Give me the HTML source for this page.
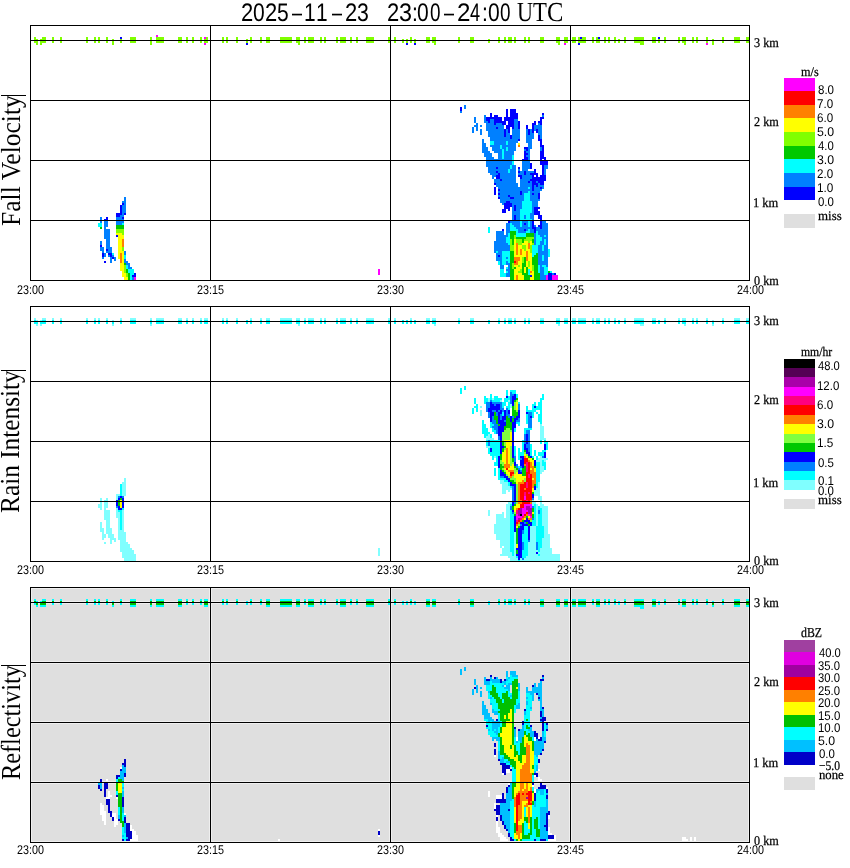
<!DOCTYPE html>
<html><head><meta charset="utf-8"><style>
html,body{margin:0;padding:0;background:#fff;width:850px;height:868px;overflow:hidden}
svg{display:block}
.t{position:absolute;white-space:pre;color:#000;line-height:1;transform-origin:0 0;filter:grayscale(1);text-rendering:geometricPrecision;-webkit-text-stroke:0.25px #000}
.nb{-webkit-text-stroke:0}
.t.sa{-webkit-text-stroke:0}
.se{font-family:"Liberation Serif",serif}
.sa{font-family:"Liberation Sans",sans-serif}
</style></head><body>
<svg width="850" height="868" viewBox="0 0 850 868" shape-rendering="crispEdges">
<rect x="31" y="588" width="718" height="254" fill="#dfdfdf"/>
<rect x="31" y="588" width="718" height="1" fill="#efefef"/>
<rect x="31" y="601" width="718" height="1" fill="#efefef"/>
<rect x="31" y="603" width="718" height="1" fill="#efefef"/>
<rect x="31" y="661" width="718" height="1" fill="#efefef"/>
<rect x="31" y="663" width="718" height="1" fill="#efefef"/>
<rect x="31" y="721" width="718" height="1" fill="#efefef"/>
<rect x="31" y="723" width="718" height="1" fill="#efefef"/>
<rect x="31" y="781" width="718" height="1" fill="#efefef"/>
<rect x="31" y="783" width="718" height="1" fill="#efefef"/>
<rect x="31" y="841" width="718" height="1" fill="#efefef"/>
<rect x="31" y="588" width="1" height="254" fill="#efefef"/>
<rect x="209" y="588" width="1" height="254" fill="#efefef"/>
<rect x="211" y="588" width="1" height="254" fill="#efefef"/>
<rect x="389" y="588" width="1" height="254" fill="#efefef"/>
<rect x="391" y="588" width="1" height="254" fill="#efefef"/>
<rect x="569" y="588" width="1" height="254" fill="#efefef"/>
<rect x="571" y="588" width="1" height="254" fill="#efefef"/>
<rect x="748" y="588" width="1" height="254" fill="#efefef"/>
<rect x="156" y="35" width="2" height="2" fill="#ff00ff"/>
<rect x="34" y="37" width="2" height="2" fill="#80ff00"/>
<rect x="42" y="37" width="4" height="2" fill="#80ff00"/>
<rect x="52" y="37" width="2" height="6" fill="#80ff00"/>
<rect x="60" y="37" width="2" height="6" fill="#80ff00"/>
<rect x="86" y="37" width="2" height="6" fill="#80ff00"/>
<rect x="94" y="37" width="2" height="6" fill="#80ff00"/>
<rect x="98" y="37" width="2" height="6" fill="#80ff00"/>
<rect x="106" y="37" width="2" height="6" fill="#80ff00"/>
<rect x="120" y="37" width="2" height="2" fill="#0000ff"/>
<rect x="120" y="205" width="2" height="8" fill="#0000ff"/>
<rect x="130" y="37" width="6" height="6" fill="#80ff00"/>
<rect x="150" y="37" width="2" height="8" fill="#80ff00"/>
<rect x="156" y="37" width="8" height="6" fill="#80ff00"/>
<rect x="178" y="37" width="4" height="6" fill="#80ff00"/>
<rect x="186" y="37" width="2" height="6" fill="#80ff00"/>
<rect x="192" y="37" width="2" height="6" fill="#80ff00"/>
<rect x="200" y="37" width="2" height="6" fill="#80ff00"/>
<rect x="204" y="37" width="2" height="2" fill="#ff00ff"/>
<rect x="204" y="43" width="2" height="2" fill="#ff00ff"/>
<rect x="206" y="37" width="2" height="2" fill="#80ff00"/>
<rect x="222" y="37" width="2" height="6" fill="#80ff00"/>
<rect x="226" y="37" width="2" height="6" fill="#80ff00"/>
<rect x="236" y="37" width="2" height="6" fill="#80ff00"/>
<rect x="250" y="37" width="2" height="6" fill="#80ff00"/>
<rect x="260" y="37" width="2" height="6" fill="#80ff00"/>
<rect x="266" y="37" width="4" height="6" fill="#80ff00"/>
<rect x="280" y="37" width="12" height="6" fill="#80ff00"/>
<rect x="296" y="37" width="4" height="6" fill="#80ff00"/>
<rect x="304" y="37" width="2" height="6" fill="#80ff00"/>
<rect x="308" y="37" width="6" height="6" fill="#80ff00"/>
<rect x="320" y="37" width="2" height="6" fill="#80ff00"/>
<rect x="324" y="37" width="2" height="6" fill="#80ff00"/>
<rect x="336" y="37" width="2" height="6" fill="#80ff00"/>
<rect x="340" y="37" width="6" height="6" fill="#80ff00"/>
<rect x="350" y="37" width="2" height="6" fill="#80ff00"/>
<rect x="356" y="37" width="2" height="6" fill="#80ff00"/>
<rect x="366" y="37" width="8" height="6" fill="#80ff00"/>
<rect x="388" y="37" width="2" height="6" fill="#80ff00"/>
<rect x="394" y="37" width="2" height="6" fill="#80ff00"/>
<rect x="410" y="37" width="2" height="6" fill="#80ff00"/>
<rect x="426" y="37" width="4" height="6" fill="#80ff00"/>
<rect x="432" y="37" width="4" height="6" fill="#80ff00"/>
<rect x="458" y="37" width="2" height="6" fill="#80ff00"/>
<rect x="470" y="37" width="4" height="6" fill="#80ff00"/>
<rect x="498" y="37" width="2" height="6" fill="#80ff00"/>
<rect x="504" y="37" width="2" height="6" fill="#80ff00"/>
<rect x="508" y="37" width="4" height="6" fill="#80ff00"/>
<rect x="514" y="37" width="2" height="6" fill="#80ff00"/>
<rect x="514" y="235" width="2" height="4" fill="#80ff00"/>
<rect x="524" y="37" width="2" height="6" fill="#80ff00"/>
<rect x="524" y="249" width="2" height="2" fill="#80ff00"/>
<rect x="528" y="37" width="2" height="6" fill="#80ff00"/>
<rect x="528" y="241" width="2" height="2" fill="#80ff00"/>
<rect x="528" y="261" width="2" height="6" fill="#80ff00"/>
<rect x="540" y="37" width="4" height="6" fill="#80ff00"/>
<rect x="556" y="37" width="4" height="6" fill="#80ff00"/>
<rect x="564" y="37" width="4" height="6" fill="#80ff00"/>
<rect x="572" y="37" width="4" height="6" fill="#80ff00"/>
<rect x="578" y="37" width="2" height="2" fill="#80ff00"/>
<rect x="580" y="37" width="2" height="2" fill="#0000ff"/>
<rect x="582" y="37" width="4" height="2" fill="#80ff00"/>
<rect x="592" y="37" width="2" height="6" fill="#80ff00"/>
<rect x="596" y="37" width="2" height="2" fill="#80ff00"/>
<rect x="598" y="37" width="2" height="2" fill="#0000ff"/>
<rect x="604" y="37" width="2" height="6" fill="#80ff00"/>
<rect x="608" y="37" width="2" height="6" fill="#80ff00"/>
<rect x="614" y="37" width="2" height="6" fill="#80ff00"/>
<rect x="624" y="37" width="2" height="6" fill="#80ff00"/>
<rect x="634" y="37" width="10" height="6" fill="#80ff00"/>
<rect x="652" y="37" width="4" height="6" fill="#80ff00"/>
<rect x="658" y="37" width="2" height="2" fill="#0000ff"/>
<rect x="664" y="37" width="2" height="6" fill="#80ff00"/>
<rect x="678" y="37" width="2" height="6" fill="#80ff00"/>
<rect x="682" y="37" width="4" height="6" fill="#80ff00"/>
<rect x="692" y="37" width="2" height="6" fill="#80ff00"/>
<rect x="696" y="37" width="2" height="6" fill="#80ff00"/>
<rect x="706" y="37" width="2" height="6" fill="#80ff00"/>
<rect x="722" y="37" width="2" height="6" fill="#80ff00"/>
<rect x="734" y="37" width="6" height="6" fill="#80ff00"/>
<rect x="746" y="37" width="4" height="6" fill="#80ff00"/>
<rect x="34" y="39" width="4" height="4" fill="#80ff00"/>
<rect x="40" y="39" width="6" height="4" fill="#80ff00"/>
<rect x="112" y="39" width="2" height="6" fill="#80ff00"/>
<rect x="120" y="39" width="2" height="4" fill="#80ff00"/>
<rect x="204" y="39" width="4" height="4" fill="#80ff00"/>
<rect x="246" y="39" width="2" height="4" fill="#80ff00"/>
<rect x="402" y="39" width="2" height="4" fill="#80ff00"/>
<rect x="406" y="39" width="2" height="4" fill="#80ff00"/>
<rect x="414" y="39" width="2" height="4" fill="#80ff00"/>
<rect x="488" y="39" width="2" height="4" fill="#80ff00"/>
<rect x="578" y="39" width="8" height="4" fill="#80ff00"/>
<rect x="596" y="39" width="4" height="4" fill="#80ff00"/>
<rect x="618" y="39" width="2" height="4" fill="#80ff00"/>
<rect x="658" y="39" width="2" height="4" fill="#80ff00"/>
<rect x="712" y="39" width="2" height="6" fill="#80ff00"/>
<rect x="36" y="43" width="2" height="2" fill="#80ff00"/>
<rect x="40" y="43" width="2" height="2" fill="#80ff00"/>
<rect x="246" y="43" width="2" height="2" fill="#0000ff"/>
<rect x="298" y="43" width="2" height="2" fill="#80ff00"/>
<rect x="406" y="43" width="2" height="2" fill="#0000ff"/>
<rect x="414" y="43" width="2" height="2" fill="#0000ff"/>
<rect x="434" y="43" width="2" height="2" fill="#80ff00"/>
<rect x="558" y="43" width="2" height="2" fill="#80ff00"/>
<rect x="564" y="43" width="2" height="2" fill="#ff00ff"/>
<rect x="578" y="43" width="2" height="2" fill="#0000ff"/>
<rect x="640" y="43" width="4" height="2" fill="#80ff00"/>
<rect x="684" y="43" width="2" height="2" fill="#80ff00"/>
<rect x="706" y="43" width="2" height="2" fill="#ff00ff"/>
<rect x="464" y="105" width="2" height="4" fill="#0080ff"/>
<rect x="460" y="107" width="2" height="4" fill="#0000ff"/>
<rect x="506" y="109" width="2" height="8" fill="#0000ff"/>
<rect x="510" y="109" width="6" height="4" fill="#0000ff"/>
<rect x="460" y="111" width="2" height="2" fill="#0080ff"/>
<rect x="490" y="113" width="2" height="4" fill="#0000ff"/>
<rect x="510" y="113" width="8" height="4" fill="#0000ff"/>
<rect x="542" y="113" width="2" height="2" fill="#0000ff"/>
<rect x="542" y="147" width="2" height="4" fill="#0000ff"/>
<rect x="542" y="165" width="2" height="10" fill="#0000ff"/>
<rect x="484" y="115" width="2" height="6" fill="#0080ff"/>
<rect x="494" y="115" width="4" height="2" fill="#0000ff"/>
<rect x="542" y="115" width="2" height="2" fill="#0080ff"/>
<rect x="542" y="187" width="2" height="2" fill="#0080ff"/>
<rect x="542" y="239" width="2" height="2" fill="#0080ff"/>
<rect x="474" y="117" width="2" height="6" fill="#0080ff"/>
<rect x="486" y="117" width="16" height="2" fill="#0000ff"/>
<rect x="504" y="117" width="14" height="2" fill="#0000ff"/>
<rect x="540" y="117" width="4" height="2" fill="#0000ff"/>
<rect x="540" y="145" width="4" height="2" fill="#0000ff"/>
<rect x="540" y="151" width="4" height="6" fill="#0000ff"/>
<rect x="540" y="183" width="4" height="2" fill="#0000ff"/>
<rect x="486" y="119" width="4" height="2" fill="#0000ff"/>
<rect x="490" y="119" width="4" height="4" fill="#0080ff"/>
<rect x="494" y="119" width="8" height="2" fill="#0000ff"/>
<rect x="504" y="119" width="10" height="2" fill="#0000ff"/>
<rect x="514" y="119" width="4" height="10" fill="#0080ff"/>
<rect x="540" y="119" width="2" height="2" fill="#0000ff"/>
<rect x="540" y="123" width="2" height="2" fill="#0000ff"/>
<rect x="540" y="141" width="2" height="4" fill="#0000ff"/>
<rect x="540" y="159" width="2" height="2" fill="#0000ff"/>
<rect x="540" y="187" width="2" height="2" fill="#0000ff"/>
<rect x="540" y="219" width="2" height="6" fill="#0000ff"/>
<rect x="540" y="227" width="2" height="2" fill="#0000ff"/>
<rect x="484" y="121" width="4" height="2" fill="#0080ff"/>
<rect x="488" y="121" width="2" height="2" fill="#0000ff"/>
<rect x="494" y="121" width="12" height="2" fill="#0000ff"/>
<rect x="508" y="121" width="6" height="4" fill="#0000ff"/>
<rect x="518" y="121" width="2" height="8" fill="#0000ff"/>
<rect x="518" y="139" width="2" height="2" fill="#0000ff"/>
<rect x="518" y="167" width="2" height="2" fill="#0000ff"/>
<rect x="518" y="171" width="2" height="2" fill="#0000ff"/>
<rect x="534" y="121" width="2" height="2" fill="#0000ff"/>
<rect x="534" y="169" width="2" height="4" fill="#0000ff"/>
<rect x="534" y="229" width="2" height="4" fill="#0000ff"/>
<rect x="538" y="121" width="4" height="2" fill="#0000ff"/>
<rect x="538" y="139" width="4" height="2" fill="#0000ff"/>
<rect x="538" y="215" width="4" height="4" fill="#0000ff"/>
<rect x="538" y="225" width="4" height="2" fill="#0000ff"/>
<rect x="476" y="123" width="2" height="2" fill="#0080ff"/>
<rect x="476" y="127" width="2" height="4" fill="#0080ff"/>
<rect x="486" y="123" width="8" height="2" fill="#0080ff"/>
<rect x="486" y="157" width="8" height="2" fill="#0080ff"/>
<rect x="494" y="123" width="2" height="2" fill="#0000ff"/>
<rect x="494" y="183" width="2" height="2" fill="#0000ff"/>
<rect x="494" y="187" width="2" height="8" fill="#0000ff"/>
<rect x="496" y="123" width="6" height="2" fill="#0080ff"/>
<rect x="496" y="253" width="6" height="2" fill="#0080ff"/>
<rect x="496" y="257" width="6" height="4" fill="#0080ff"/>
<rect x="502" y="123" width="4" height="2" fill="#0000ff"/>
<rect x="502" y="209" width="4" height="4" fill="#0000ff"/>
<rect x="532" y="123" width="4" height="2" fill="#0000ff"/>
<rect x="532" y="181" width="4" height="2" fill="#0000ff"/>
<rect x="532" y="227" width="4" height="2" fill="#0000ff"/>
<rect x="538" y="123" width="2" height="2" fill="#0080ff"/>
<rect x="538" y="183" width="2" height="2" fill="#0080ff"/>
<rect x="474" y="125" width="4" height="2" fill="#0080ff"/>
<rect x="480" y="125" width="2" height="2" fill="#0080ff"/>
<rect x="480" y="129" width="2" height="6" fill="#0080ff"/>
<rect x="486" y="125" width="18" height="2" fill="#0080ff"/>
<rect x="486" y="129" width="18" height="2" fill="#0080ff"/>
<rect x="506" y="125" width="8" height="2" fill="#0000ff"/>
<rect x="526" y="125" width="2" height="4" fill="#0000ff"/>
<rect x="526" y="149" width="2" height="2" fill="#0000ff"/>
<rect x="532" y="125" width="2" height="8" fill="#0000ff"/>
<rect x="532" y="175" width="2" height="2" fill="#0000ff"/>
<rect x="532" y="185" width="2" height="6" fill="#0000ff"/>
<rect x="532" y="193" width="2" height="2" fill="#0000ff"/>
<rect x="532" y="221" width="2" height="6" fill="#0000ff"/>
<rect x="534" y="125" width="8" height="4" fill="#0080ff"/>
<rect x="534" y="189" width="8" height="2" fill="#0080ff"/>
<rect x="472" y="127" width="2" height="6" fill="#0080ff"/>
<rect x="486" y="127" width="10" height="2" fill="#0080ff"/>
<rect x="496" y="127" width="2" height="2" fill="#0000ff"/>
<rect x="496" y="167" width="2" height="2" fill="#0000ff"/>
<rect x="496" y="171" width="2" height="2" fill="#0000ff"/>
<rect x="498" y="127" width="6" height="2" fill="#0080ff"/>
<rect x="506" y="127" width="4" height="2" fill="#0000ff"/>
<rect x="506" y="201" width="4" height="2" fill="#0000ff"/>
<rect x="512" y="127" width="2" height="2" fill="#0000ff"/>
<rect x="504" y="129" width="2" height="8" fill="#0000ff"/>
<rect x="506" y="129" width="2" height="4" fill="#0080ff"/>
<rect x="506" y="233" width="2" height="2" fill="#0080ff"/>
<rect x="506" y="257" width="2" height="2" fill="#0080ff"/>
<rect x="506" y="261" width="2" height="2" fill="#0080ff"/>
<rect x="508" y="129" width="2" height="4" fill="#0000ff"/>
<rect x="508" y="195" width="2" height="2" fill="#0000ff"/>
<rect x="508" y="209" width="2" height="2" fill="#0000ff"/>
<rect x="508" y="221" width="2" height="2" fill="#0000ff"/>
<rect x="512" y="129" width="8" height="10" fill="#0080ff"/>
<rect x="512" y="211" width="8" height="4" fill="#0080ff"/>
<rect x="512" y="223" width="8" height="2" fill="#0080ff"/>
<rect x="526" y="129" width="2" height="6" fill="#0080ff"/>
<rect x="526" y="223" width="2" height="2" fill="#0080ff"/>
<rect x="526" y="229" width="2" height="2" fill="#0080ff"/>
<rect x="528" y="129" width="2" height="6" fill="#0000ff"/>
<rect x="528" y="181" width="2" height="2" fill="#0000ff"/>
<rect x="530" y="129" width="2" height="4" fill="#0080ff"/>
<rect x="530" y="181" width="2" height="2" fill="#0080ff"/>
<rect x="530" y="187" width="2" height="2" fill="#0080ff"/>
<rect x="530" y="193" width="2" height="2" fill="#0080ff"/>
<rect x="530" y="221" width="2" height="6" fill="#0080ff"/>
<rect x="534" y="129" width="2" height="2" fill="#0080ff"/>
<rect x="534" y="185" width="2" height="2" fill="#0080ff"/>
<rect x="534" y="225" width="2" height="2" fill="#0080ff"/>
<rect x="534" y="233" width="2" height="12" fill="#0080ff"/>
<rect x="536" y="129" width="2" height="4" fill="#0000ff"/>
<rect x="536" y="175" width="2" height="2" fill="#0000ff"/>
<rect x="536" y="185" width="2" height="2" fill="#0000ff"/>
<rect x="538" y="129" width="4" height="6" fill="#0080ff"/>
<rect x="538" y="245" width="4" height="6" fill="#0080ff"/>
<rect x="538" y="255" width="4" height="6" fill="#0080ff"/>
<rect x="488" y="131" width="16" height="6" fill="#0080ff"/>
<rect x="506" y="133" width="4" height="4" fill="#0080ff"/>
<rect x="506" y="223" width="4" height="10" fill="#0080ff"/>
<rect x="506" y="263" width="4" height="2" fill="#0080ff"/>
<rect x="506" y="269" width="4" height="2" fill="#0080ff"/>
<rect x="506" y="273" width="4" height="4" fill="#0080ff"/>
<rect x="530" y="133" width="4" height="2" fill="#0080ff"/>
<rect x="530" y="213" width="4" height="6" fill="#0080ff"/>
<rect x="530" y="229" width="4" height="4" fill="#0080ff"/>
<rect x="510" y="135" width="2" height="4" fill="#0000ff"/>
<rect x="526" y="135" width="8" height="4" fill="#0080ff"/>
<rect x="526" y="171" width="8" height="2" fill="#0080ff"/>
<rect x="538" y="135" width="2" height="4" fill="#0000ff"/>
<rect x="538" y="193" width="2" height="6" fill="#0000ff"/>
<rect x="540" y="135" width="2" height="4" fill="#0080ff"/>
<rect x="540" y="147" width="2" height="4" fill="#0080ff"/>
<rect x="540" y="265" width="2" height="2" fill="#0080ff"/>
<rect x="490" y="137" width="20" height="2" fill="#0080ff"/>
<rect x="482" y="139" width="2" height="4" fill="#0080ff"/>
<rect x="490" y="139" width="28" height="2" fill="#0080ff"/>
<rect x="526" y="139" width="6" height="4" fill="#0080ff"/>
<rect x="490" y="141" width="4" height="4" fill="#00ffff"/>
<rect x="494" y="141" width="12" height="4" fill="#0080ff"/>
<rect x="494" y="241" width="12" height="2" fill="#0080ff"/>
<rect x="506" y="141" width="2" height="4" fill="#00ffff"/>
<rect x="506" y="147" width="2" height="4" fill="#00ffff"/>
<rect x="506" y="267" width="2" height="2" fill="#00ffff"/>
<rect x="506" y="271" width="2" height="2" fill="#00ffff"/>
<rect x="508" y="141" width="10" height="2" fill="#0080ff"/>
<rect x="482" y="143" width="4" height="4" fill="#0080ff"/>
<rect x="508" y="143" width="8" height="2" fill="#0080ff"/>
<rect x="508" y="147" width="8" height="4" fill="#0080ff"/>
<rect x="518" y="143" width="2" height="2" fill="#ffff00"/>
<rect x="518" y="249" width="2" height="6" fill="#ffff00"/>
<rect x="528" y="143" width="4" height="6" fill="#0080ff"/>
<rect x="490" y="145" width="10" height="2" fill="#0080ff"/>
<rect x="500" y="145" width="2" height="4" fill="#00ffff"/>
<rect x="502" y="145" width="14" height="2" fill="#0080ff"/>
<rect x="502" y="179" width="14" height="2" fill="#0080ff"/>
<rect x="518" y="145" width="2" height="2" fill="#ff8000"/>
<rect x="482" y="147" width="6" height="4" fill="#0080ff"/>
<rect x="492" y="147" width="8" height="2" fill="#0080ff"/>
<rect x="502" y="147" width="4" height="2" fill="#0080ff"/>
<rect x="524" y="147" width="4" height="2" fill="#0000ff"/>
<rect x="524" y="153" width="4" height="2" fill="#0000ff"/>
<rect x="524" y="157" width="4" height="2" fill="#0000ff"/>
<rect x="492" y="149" width="10" height="2" fill="#0080ff"/>
<rect x="502" y="149" width="2" height="10" fill="#00ffff"/>
<rect x="504" y="149" width="2" height="2" fill="#0080ff"/>
<rect x="524" y="149" width="2" height="2" fill="#0080ff"/>
<rect x="524" y="215" width="2" height="4" fill="#0080ff"/>
<rect x="528" y="149" width="2" height="2" fill="#0080ff"/>
<rect x="528" y="153" width="2" height="2" fill="#0080ff"/>
<rect x="528" y="157" width="2" height="4" fill="#0080ff"/>
<rect x="482" y="151" width="8" height="2" fill="#0080ff"/>
<rect x="494" y="151" width="8" height="2" fill="#0080ff"/>
<rect x="504" y="151" width="10" height="4" fill="#0080ff"/>
<rect x="524" y="151" width="2" height="2" fill="#0000ff"/>
<rect x="524" y="155" width="2" height="2" fill="#0000ff"/>
<rect x="524" y="171" width="2" height="4" fill="#0000ff"/>
<rect x="524" y="223" width="2" height="2" fill="#0000ff"/>
<rect x="524" y="229" width="2" height="2" fill="#0000ff"/>
<rect x="526" y="151" width="4" height="2" fill="#0080ff"/>
<rect x="526" y="155" width="4" height="2" fill="#0080ff"/>
<rect x="526" y="173" width="4" height="2" fill="#0080ff"/>
<rect x="484" y="153" width="8" height="4" fill="#0080ff"/>
<rect x="498" y="153" width="4" height="6" fill="#0080ff"/>
<rect x="498" y="251" width="4" height="2" fill="#0080ff"/>
<rect x="504" y="155" width="8" height="4" fill="#0080ff"/>
<rect x="512" y="155" width="2" height="10" fill="#00ffff"/>
<rect x="540" y="157" width="6" height="2" fill="#0000ff"/>
<rect x="540" y="175" width="6" height="2" fill="#0000ff"/>
<rect x="486" y="159" width="26" height="6" fill="#0080ff"/>
<rect x="522" y="159" width="6" height="2" fill="#0000ff"/>
<rect x="544" y="159" width="2" height="2" fill="#0000ff"/>
<rect x="522" y="161" width="8" height="8" fill="#0080ff"/>
<rect x="540" y="161" width="8" height="4" fill="#0000ff"/>
<rect x="530" y="163" width="2" height="6" fill="#0000ff"/>
<rect x="530" y="275" width="2" height="2" fill="#0000ff"/>
<rect x="486" y="165" width="24" height="2" fill="#0080ff"/>
<rect x="510" y="165" width="2" height="4" fill="#00ffff"/>
<rect x="510" y="223" width="2" height="2" fill="#00ffff"/>
<rect x="512" y="165" width="4" height="4" fill="#0080ff"/>
<rect x="544" y="165" width="4" height="4" fill="#0080ff"/>
<rect x="544" y="245" width="4" height="6" fill="#0080ff"/>
<rect x="544" y="255" width="4" height="6" fill="#0080ff"/>
<rect x="488" y="167" width="8" height="2" fill="#0080ff"/>
<rect x="488" y="171" width="8" height="2" fill="#0080ff"/>
<rect x="498" y="167" width="12" height="2" fill="#0080ff"/>
<rect x="488" y="169" width="20" height="2" fill="#0080ff"/>
<rect x="508" y="169" width="2" height="4" fill="#00ffff"/>
<rect x="508" y="233" width="2" height="4" fill="#00ffff"/>
<rect x="508" y="243" width="2" height="2" fill="#00ffff"/>
<rect x="508" y="257" width="2" height="2" fill="#00ffff"/>
<rect x="508" y="261" width="2" height="2" fill="#00ffff"/>
<rect x="510" y="169" width="6" height="4" fill="#0080ff"/>
<rect x="518" y="169" width="2" height="2" fill="#0080ff"/>
<rect x="522" y="169" width="6" height="2" fill="#0080ff"/>
<rect x="522" y="191" width="6" height="2" fill="#0080ff"/>
<rect x="522" y="221" width="6" height="2" fill="#0080ff"/>
<rect x="522" y="225" width="6" height="2" fill="#0080ff"/>
<rect x="544" y="169" width="2" height="6" fill="#0080ff"/>
<rect x="498" y="171" width="10" height="2" fill="#0080ff"/>
<rect x="498" y="195" width="10" height="2" fill="#0080ff"/>
<rect x="520" y="171" width="4" height="2" fill="#0080ff"/>
<rect x="490" y="173" width="8" height="2" fill="#0080ff"/>
<rect x="498" y="173" width="2" height="2" fill="#0000ff"/>
<rect x="498" y="189" width="2" height="2" fill="#0000ff"/>
<rect x="498" y="193" width="2" height="2" fill="#0000ff"/>
<rect x="498" y="197" width="2" height="2" fill="#0000ff"/>
<rect x="498" y="255" width="2" height="2" fill="#0000ff"/>
<rect x="500" y="173" width="16" height="6" fill="#0080ff"/>
<rect x="518" y="173" width="6" height="2" fill="#0080ff"/>
<rect x="518" y="229" width="6" height="2" fill="#0080ff"/>
<rect x="530" y="173" width="8" height="2" fill="#0000ff"/>
<rect x="492" y="175" width="4" height="2" fill="#0080ff"/>
<rect x="496" y="175" width="4" height="4" fill="#0000ff"/>
<rect x="518" y="175" width="4" height="2" fill="#0000ff"/>
<rect x="522" y="175" width="10" height="4" fill="#0080ff"/>
<rect x="492" y="177" width="2" height="2" fill="#0080ff"/>
<rect x="520" y="177" width="2" height="2" fill="#0000ff"/>
<rect x="520" y="191" width="2" height="4" fill="#0000ff"/>
<rect x="532" y="177" width="14" height="2" fill="#0000ff"/>
<rect x="494" y="179" width="6" height="2" fill="#0080ff"/>
<rect x="500" y="179" width="2" height="2" fill="#0000ff"/>
<rect x="520" y="179" width="10" height="2" fill="#0080ff"/>
<rect x="530" y="179" width="16" height="2" fill="#0000ff"/>
<rect x="494" y="181" width="22" height="2" fill="#0080ff"/>
<rect x="520" y="181" width="8" height="2" fill="#0080ff"/>
<rect x="536" y="181" width="2" height="2" fill="#0080ff"/>
<rect x="538" y="181" width="6" height="2" fill="#0000ff"/>
<rect x="496" y="183" width="22" height="4" fill="#0080ff"/>
<rect x="520" y="183" width="12" height="4" fill="#0080ff"/>
<rect x="532" y="183" width="6" height="2" fill="#0000ff"/>
<rect x="538" y="185" width="6" height="2" fill="#0080ff"/>
<rect x="498" y="187" width="30" height="2" fill="#0080ff"/>
<rect x="528" y="187" width="2" height="2" fill="#00ffff"/>
<rect x="528" y="191" width="2" height="2" fill="#00ffff"/>
<rect x="528" y="221" width="2" height="6" fill="#00ffff"/>
<rect x="528" y="229" width="2" height="2" fill="#00ffff"/>
<rect x="528" y="269" width="2" height="6" fill="#00ffff"/>
<rect x="534" y="187" width="6" height="2" fill="#0080ff"/>
<rect x="500" y="189" width="32" height="2" fill="#0080ff"/>
<rect x="498" y="191" width="22" height="2" fill="#0080ff"/>
<rect x="530" y="191" width="10" height="2" fill="#0080ff"/>
<rect x="530" y="199" width="10" height="2" fill="#0080ff"/>
<rect x="500" y="193" width="20" height="2" fill="#0080ff"/>
<rect x="522" y="193" width="2" height="2" fill="#0080ff"/>
<rect x="522" y="223" width="2" height="2" fill="#0080ff"/>
<rect x="524" y="193" width="6" height="8" fill="#00ffff"/>
<rect x="534" y="193" width="4" height="2" fill="#0080ff"/>
<rect x="510" y="195" width="14" height="2" fill="#0080ff"/>
<rect x="530" y="195" width="8" height="4" fill="#0080ff"/>
<rect x="124" y="197" width="2" height="4" fill="#0080ff"/>
<rect x="124" y="203" width="2" height="2" fill="#0080ff"/>
<rect x="124" y="251" width="2" height="4" fill="#0080ff"/>
<rect x="124" y="259" width="2" height="2" fill="#0080ff"/>
<rect x="500" y="197" width="10" height="2" fill="#0080ff"/>
<rect x="510" y="197" width="4" height="2" fill="#0000ff"/>
<rect x="514" y="197" width="10" height="2" fill="#0080ff"/>
<rect x="500" y="199" width="24" height="2" fill="#0080ff"/>
<rect x="122" y="201" width="4" height="2" fill="#0080ff"/>
<rect x="122" y="205" width="4" height="8" fill="#0080ff"/>
<rect x="500" y="201" width="6" height="2" fill="#0080ff"/>
<rect x="510" y="201" width="12" height="2" fill="#0080ff"/>
<rect x="522" y="201" width="10" height="8" fill="#00ffff"/>
<rect x="532" y="201" width="6" height="6" fill="#0080ff"/>
<rect x="122" y="203" width="2" height="2" fill="#0000ff"/>
<rect x="122" y="217" width="2" height="2" fill="#0000ff"/>
<rect x="502" y="203" width="2" height="2" fill="#0080ff"/>
<rect x="504" y="203" width="8" height="4" fill="#0000ff"/>
<rect x="512" y="203" width="10" height="2" fill="#0080ff"/>
<rect x="512" y="205" width="2" height="6" fill="#0080ff"/>
<rect x="512" y="215" width="2" height="6" fill="#0080ff"/>
<rect x="514" y="205" width="2" height="6" fill="#0000ff"/>
<rect x="514" y="215" width="2" height="6" fill="#0000ff"/>
<rect x="516" y="205" width="6" height="4" fill="#0080ff"/>
<rect x="504" y="207" width="6" height="2" fill="#0000ff"/>
<rect x="532" y="207" width="2" height="6" fill="#0080ff"/>
<rect x="532" y="219" width="2" height="2" fill="#0080ff"/>
<rect x="534" y="207" width="6" height="2" fill="#0000ff"/>
<rect x="534" y="211" width="6" height="4" fill="#0000ff"/>
<rect x="516" y="209" width="4" height="2" fill="#0080ff"/>
<rect x="516" y="215" width="4" height="6" fill="#0080ff"/>
<rect x="520" y="209" width="12" height="4" fill="#00ffff"/>
<rect x="520" y="219" width="12" height="2" fill="#00ffff"/>
<rect x="534" y="209" width="4" height="2" fill="#0000ff"/>
<rect x="116" y="213" width="6" height="2" fill="#0000ff"/>
<rect x="122" y="213" width="2" height="2" fill="#0080ff"/>
<rect x="124" y="213" width="2" height="2" fill="#0000ff"/>
<rect x="520" y="213" width="10" height="2" fill="#00ffff"/>
<rect x="116" y="215" width="4" height="2" fill="#0000ff"/>
<rect x="120" y="215" width="4" height="2" fill="#0080ff"/>
<rect x="520" y="215" width="4" height="4" fill="#00ffff"/>
<rect x="526" y="215" width="4" height="4" fill="#00ffff"/>
<rect x="526" y="231" width="4" height="2" fill="#00ffff"/>
<rect x="100" y="217" width="2" height="6" fill="#0080ff"/>
<rect x="100" y="241" width="2" height="4" fill="#0080ff"/>
<rect x="106" y="217" width="2" height="2" fill="#0000ff"/>
<rect x="106" y="249" width="2" height="2" fill="#0000ff"/>
<rect x="116" y="217" width="6" height="2" fill="#0080ff"/>
<rect x="116" y="223" width="6" height="2" fill="#0080ff"/>
<rect x="104" y="219" width="4" height="2" fill="#0000ff"/>
<rect x="116" y="219" width="8" height="4" fill="#0080ff"/>
<rect x="104" y="221" width="4" height="6" fill="#0080ff"/>
<rect x="510" y="221" width="10" height="2" fill="#0080ff"/>
<rect x="520" y="221" width="2" height="6" fill="#00ffff"/>
<rect x="542" y="221" width="4" height="2" fill="#0080ff"/>
<rect x="98" y="223" width="4" height="4" fill="#00ffff"/>
<rect x="122" y="223" width="2" height="2" fill="#00ffff"/>
<rect x="542" y="223" width="6" height="6" fill="#0080ff"/>
<rect x="542" y="237" width="6" height="2" fill="#0080ff"/>
<rect x="116" y="225" width="8" height="4" fill="#00c800"/>
<rect x="510" y="225" width="4" height="2" fill="#00ffff"/>
<rect x="514" y="225" width="6" height="2" fill="#0080ff"/>
<rect x="100" y="227" width="2" height="2" fill="#00c800"/>
<rect x="104" y="227" width="2" height="2" fill="#0080ff"/>
<rect x="104" y="253" width="2" height="4" fill="#0080ff"/>
<rect x="488" y="227" width="2" height="6" fill="#00ffff"/>
<rect x="510" y="227" width="6" height="2" fill="#00ffff"/>
<rect x="516" y="227" width="16" height="2" fill="#0080ff"/>
<rect x="536" y="227" width="4" height="2" fill="#0080ff"/>
<rect x="104" y="229" width="6" height="10" fill="#0080ff"/>
<rect x="116" y="229" width="8" height="4" fill="#80ff00"/>
<rect x="502" y="229" width="2" height="2" fill="#0000ff"/>
<rect x="510" y="229" width="8" height="2" fill="#00ffff"/>
<rect x="536" y="229" width="12" height="2" fill="#0080ff"/>
<rect x="496" y="231" width="8" height="4" fill="#0080ff"/>
<rect x="510" y="231" width="6" height="4" fill="#00c800"/>
<rect x="516" y="231" width="2" height="2" fill="#00ffff"/>
<rect x="518" y="231" width="8" height="2" fill="#0080ff"/>
<rect x="536" y="231" width="2" height="4" fill="#00ffff"/>
<rect x="538" y="231" width="10" height="4" fill="#0080ff"/>
<rect x="538" y="251" width="10" height="4" fill="#0080ff"/>
<rect x="538" y="261" width="10" height="4" fill="#0080ff"/>
<rect x="116" y="233" width="6" height="2" fill="#ffff00"/>
<rect x="122" y="233" width="2" height="2" fill="#80ff00"/>
<rect x="122" y="247" width="2" height="4" fill="#80ff00"/>
<rect x="516" y="233" width="10" height="4" fill="#00ffff"/>
<rect x="526" y="233" width="8" height="4" fill="#00c800"/>
<rect x="116" y="235" width="2" height="2" fill="#0000ff"/>
<rect x="118" y="235" width="6" height="4" fill="#ffff00"/>
<rect x="118" y="251" width="6" height="2" fill="#ffff00"/>
<rect x="496" y="235" width="12" height="2" fill="#0080ff"/>
<rect x="510" y="235" width="4" height="4" fill="#00c800"/>
<rect x="510" y="251" width="4" height="12" fill="#00c800"/>
<rect x="510" y="269" width="4" height="12" fill="#00c800"/>
<rect x="536" y="235" width="4" height="2" fill="#00ffff"/>
<rect x="536" y="241" width="4" height="4" fill="#00ffff"/>
<rect x="540" y="235" width="4" height="2" fill="#0080ff"/>
<rect x="540" y="241" width="4" height="4" fill="#0080ff"/>
<rect x="540" y="267" width="4" height="8" fill="#0080ff"/>
<rect x="544" y="235" width="2" height="2" fill="#00ffff"/>
<rect x="544" y="239" width="2" height="6" fill="#00ffff"/>
<rect x="546" y="235" width="2" height="2" fill="#0080ff"/>
<rect x="546" y="239" width="2" height="6" fill="#0080ff"/>
<rect x="546" y="265" width="2" height="2" fill="#0080ff"/>
<rect x="496" y="237" width="10" height="4" fill="#0080ff"/>
<rect x="506" y="237" width="4" height="6" fill="#00ffff"/>
<rect x="516" y="237" width="10" height="2" fill="#00c800"/>
<rect x="526" y="237" width="8" height="2" fill="#80ff00"/>
<rect x="536" y="237" width="6" height="4" fill="#00ffff"/>
<rect x="106" y="239" width="4" height="8" fill="#0080ff"/>
<rect x="118" y="239" width="4" height="12" fill="#ffff00"/>
<rect x="122" y="239" width="2" height="8" fill="#ff8000"/>
<rect x="510" y="239" width="2" height="6" fill="#80ff00"/>
<rect x="512" y="239" width="2" height="6" fill="#00c800"/>
<rect x="514" y="239" width="2" height="16" fill="#ffff00"/>
<rect x="514" y="275" width="2" height="6" fill="#ffff00"/>
<rect x="516" y="239" width="6" height="4" fill="#80ff00"/>
<rect x="522" y="239" width="2" height="4" fill="#00c800"/>
<rect x="522" y="267" width="2" height="6" fill="#00c800"/>
<rect x="524" y="239" width="8" height="2" fill="#80ff00"/>
<rect x="532" y="239" width="2" height="4" fill="#00c800"/>
<rect x="524" y="241" width="4" height="2" fill="#ffff00"/>
<rect x="530" y="241" width="2" height="4" fill="#ffff00"/>
<rect x="530" y="261" width="2" height="6" fill="#ffff00"/>
<rect x="530" y="269" width="2" height="2" fill="#ffff00"/>
<rect x="494" y="243" width="14" height="2" fill="#0080ff"/>
<rect x="516" y="243" width="2" height="12" fill="#ff8000"/>
<rect x="516" y="261" width="2" height="2" fill="#ff8000"/>
<rect x="516" y="275" width="2" height="6" fill="#ff8000"/>
<rect x="518" y="243" width="4" height="2" fill="#80ff00"/>
<rect x="518" y="271" width="4" height="2" fill="#80ff00"/>
<rect x="522" y="243" width="6" height="2" fill="#ffff00"/>
<rect x="528" y="243" width="2" height="6" fill="#ff8000"/>
<rect x="532" y="243" width="2" height="2" fill="#80ff00"/>
<rect x="532" y="265" width="2" height="6" fill="#80ff00"/>
<rect x="100" y="245" width="2" height="2" fill="#0000ff"/>
<rect x="494" y="245" width="16" height="6" fill="#0080ff"/>
<rect x="510" y="245" width="4" height="6" fill="#80ff00"/>
<rect x="518" y="245" width="4" height="4" fill="#ffff00"/>
<rect x="518" y="261" width="4" height="4" fill="#ffff00"/>
<rect x="522" y="245" width="4" height="4" fill="#80ff00"/>
<rect x="526" y="245" width="2" height="4" fill="#ffff00"/>
<rect x="526" y="261" width="2" height="6" fill="#ffff00"/>
<rect x="530" y="245" width="2" height="8" fill="#80ff00"/>
<rect x="532" y="245" width="6" height="8" fill="#00ffff"/>
<rect x="542" y="245" width="2" height="6" fill="#00ffff"/>
<rect x="542" y="255" width="2" height="6" fill="#00ffff"/>
<rect x="100" y="247" width="4" height="4" fill="#0080ff"/>
<rect x="106" y="247" width="6" height="2" fill="#0080ff"/>
<rect x="106" y="251" width="6" height="2" fill="#0080ff"/>
<rect x="108" y="249" width="4" height="2" fill="#0080ff"/>
<rect x="520" y="249" width="2" height="6" fill="#ff8000"/>
<rect x="522" y="249" width="2" height="2" fill="#ffff00"/>
<rect x="526" y="249" width="4" height="2" fill="#ffff00"/>
<rect x="548" y="249" width="2" height="8" fill="#00ffff"/>
<rect x="102" y="251" width="2" height="2" fill="#0080ff"/>
<rect x="102" y="257" width="2" height="2" fill="#0080ff"/>
<rect x="494" y="251" width="2" height="2" fill="#0080ff"/>
<rect x="496" y="251" width="2" height="2" fill="#00ffff"/>
<rect x="502" y="251" width="8" height="6" fill="#00ffff"/>
<rect x="502" y="259" width="8" height="2" fill="#00ffff"/>
<rect x="522" y="251" width="4" height="4" fill="#ffff00"/>
<rect x="526" y="251" width="2" height="10" fill="#ff8000"/>
<rect x="528" y="251" width="2" height="2" fill="#ffff00"/>
<rect x="102" y="253" width="2" height="4" fill="#0000ff"/>
<rect x="108" y="253" width="4" height="2" fill="#0000ff"/>
<rect x="112" y="253" width="2" height="2" fill="#00ffff"/>
<rect x="118" y="253" width="2" height="6" fill="#ffff00"/>
<rect x="120" y="253" width="2" height="10" fill="#ff8000"/>
<rect x="122" y="253" width="2" height="10" fill="#ffff00"/>
<rect x="122" y="271" width="2" height="2" fill="#ffff00"/>
<rect x="528" y="253" width="4" height="8" fill="#ffff00"/>
<rect x="528" y="267" width="4" height="2" fill="#ffff00"/>
<rect x="532" y="253" width="4" height="2" fill="#00ffff"/>
<rect x="536" y="253" width="2" height="2" fill="#00c800"/>
<rect x="108" y="255" width="2" height="2" fill="#0080ff"/>
<rect x="110" y="255" width="2" height="2" fill="#0000ff"/>
<rect x="112" y="255" width="2" height="2" fill="#0080ff"/>
<rect x="124" y="255" width="2" height="4" fill="#00ffff"/>
<rect x="496" y="255" width="2" height="2" fill="#0080ff"/>
<rect x="500" y="255" width="2" height="2" fill="#0080ff"/>
<rect x="500" y="261" width="2" height="4" fill="#0080ff"/>
<rect x="514" y="255" width="12" height="2" fill="#ffff00"/>
<rect x="532" y="255" width="2" height="2" fill="#00ffff"/>
<rect x="534" y="255" width="4" height="2" fill="#00c800"/>
<rect x="534" y="265" width="4" height="8" fill="#00c800"/>
<rect x="110" y="257" width="2" height="6" fill="#0080ff"/>
<rect x="112" y="257" width="2" height="2" fill="#0000ff"/>
<rect x="114" y="257" width="2" height="4" fill="#0080ff"/>
<rect x="502" y="257" width="4" height="2" fill="#00ffff"/>
<rect x="502" y="261" width="4" height="4" fill="#00ffff"/>
<rect x="514" y="257" width="6" height="4" fill="#ff8000"/>
<rect x="520" y="257" width="2" height="4" fill="#ffff00"/>
<rect x="520" y="265" width="2" height="2" fill="#ffff00"/>
<rect x="522" y="257" width="2" height="6" fill="#80ff00"/>
<rect x="524" y="257" width="2" height="6" fill="#00c800"/>
<rect x="532" y="257" width="6" height="8" fill="#00c800"/>
<rect x="104" y="261" width="2" height="2" fill="#0000ff"/>
<rect x="124" y="261" width="4" height="2" fill="#0080ff"/>
<rect x="498" y="261" width="2" height="4" fill="#00ffff"/>
<rect x="514" y="261" width="2" height="2" fill="#ff0000"/>
<rect x="120" y="263" width="4" height="8" fill="#ffff00"/>
<rect x="124" y="263" width="2" height="2" fill="#00c800"/>
<rect x="126" y="263" width="4" height="2" fill="#0080ff"/>
<rect x="510" y="263" width="2" height="6" fill="#00c800"/>
<rect x="512" y="263" width="2" height="6" fill="#80ff00"/>
<rect x="514" y="263" width="4" height="2" fill="#ff8000"/>
<rect x="522" y="263" width="4" height="4" fill="#00c800"/>
<rect x="124" y="265" width="2" height="8" fill="#80ff00"/>
<rect x="126" y="265" width="2" height="4" fill="#00ffff"/>
<rect x="128" y="265" width="2" height="2" fill="#0080ff"/>
<rect x="500" y="265" width="4" height="4" fill="#0080ff"/>
<rect x="508" y="265" width="2" height="4" fill="#0080ff"/>
<rect x="508" y="271" width="2" height="2" fill="#0080ff"/>
<rect x="514" y="265" width="4" height="2" fill="#ffff00"/>
<rect x="514" y="271" width="4" height="2" fill="#ffff00"/>
<rect x="518" y="265" width="2" height="2" fill="#80ff00"/>
<rect x="538" y="265" width="2" height="8" fill="#00ffff"/>
<rect x="542" y="265" width="4" height="2" fill="#00ffff"/>
<rect x="128" y="267" width="4" height="2" fill="#0080ff"/>
<rect x="514" y="267" width="2" height="2" fill="#00c800"/>
<rect x="516" y="267" width="6" height="2" fill="#ffff00"/>
<rect x="524" y="267" width="2" height="6" fill="#ffff00"/>
<rect x="526" y="267" width="2" height="6" fill="#00c800"/>
<rect x="544" y="267" width="4" height="8" fill="#00ffff"/>
<rect x="126" y="269" width="2" height="4" fill="#00c800"/>
<rect x="128" y="269" width="6" height="4" fill="#00ffff"/>
<rect x="378" y="269" width="2" height="6" fill="#ff00ff"/>
<rect x="500" y="269" width="4" height="4" fill="#00ffff"/>
<rect x="514" y="269" width="6" height="2" fill="#ffff00"/>
<rect x="520" y="269" width="2" height="2" fill="#80ff00"/>
<rect x="530" y="271" width="2" height="2" fill="#ff8000"/>
<rect x="532" y="271" width="2" height="2" fill="#ffff00"/>
<rect x="532" y="275" width="2" height="2" fill="#ffff00"/>
<rect x="548" y="271" width="2" height="2" fill="#00c800"/>
<rect x="550" y="271" width="2" height="2" fill="#00ffff"/>
<rect x="122" y="273" width="4" height="4" fill="#ffff00"/>
<rect x="126" y="273" width="2" height="4" fill="#80ff00"/>
<rect x="128" y="273" width="2" height="8" fill="#00c800"/>
<rect x="130" y="273" width="4" height="2" fill="#00ffff"/>
<rect x="134" y="273" width="2" height="2" fill="#0000ff"/>
<rect x="500" y="273" width="6" height="4" fill="#00ffff"/>
<rect x="514" y="273" width="8" height="2" fill="#ffff00"/>
<rect x="522" y="273" width="6" height="2" fill="#00c800"/>
<rect x="530" y="273" width="4" height="2" fill="#ffff00"/>
<rect x="530" y="277" width="4" height="4" fill="#ffff00"/>
<rect x="534" y="273" width="6" height="8" fill="#00c800"/>
<rect x="548" y="273" width="4" height="8" fill="#0000ff"/>
<rect x="552" y="273" width="2" height="2" fill="#0080ff"/>
<rect x="554" y="273" width="2" height="2" fill="#0000ff"/>
<rect x="130" y="275" width="2" height="6" fill="#00ffff"/>
<rect x="132" y="275" width="4" height="2" fill="#0000ff"/>
<rect x="518" y="275" width="6" height="6" fill="#ffff00"/>
<rect x="524" y="275" width="6" height="6" fill="#00c800"/>
<rect x="540" y="275" width="6" height="6" fill="#0080ff"/>
<rect x="546" y="275" width="2" height="6" fill="#ff00ff"/>
<rect x="552" y="275" width="6" height="6" fill="#ff00ff"/>
<rect x="124" y="277" width="4" height="4" fill="#ffff00"/>
<rect x="132" y="277" width="2" height="4" fill="#0080ff"/>
<rect x="134" y="277" width="2" height="4" fill="#ff00ff"/>
<rect x="34" y="318" width="2" height="2" fill="#80ffff"/>
<rect x="42" y="318" width="4" height="2" fill="#80ffff"/>
<rect x="52" y="318" width="2" height="2" fill="#80ffff"/>
<rect x="60" y="318" width="2" height="2" fill="#80ffff"/>
<rect x="86" y="318" width="2" height="2" fill="#80ffff"/>
<rect x="94" y="318" width="2" height="2" fill="#80ffff"/>
<rect x="98" y="318" width="2" height="2" fill="#80ffff"/>
<rect x="106" y="318" width="2" height="2" fill="#80ffff"/>
<rect x="106" y="498" width="2" height="2" fill="#80ffff"/>
<rect x="120" y="318" width="2" height="2" fill="#80ffff"/>
<rect x="130" y="318" width="6" height="2" fill="#80ffff"/>
<rect x="150" y="318" width="2" height="2" fill="#80ffff"/>
<rect x="150" y="324" width="2" height="2" fill="#80ffff"/>
<rect x="156" y="318" width="8" height="2" fill="#80ffff"/>
<rect x="178" y="318" width="4" height="2" fill="#80ffff"/>
<rect x="186" y="318" width="2" height="2" fill="#80ffff"/>
<rect x="192" y="318" width="2" height="2" fill="#80ffff"/>
<rect x="200" y="318" width="2" height="2" fill="#80ffff"/>
<rect x="204" y="318" width="4" height="2" fill="#80ffff"/>
<rect x="222" y="318" width="2" height="2" fill="#80ffff"/>
<rect x="226" y="318" width="2" height="2" fill="#80ffff"/>
<rect x="236" y="318" width="2" height="2" fill="#80ffff"/>
<rect x="250" y="318" width="2" height="2" fill="#80ffff"/>
<rect x="260" y="318" width="2" height="2" fill="#80ffff"/>
<rect x="266" y="318" width="4" height="2" fill="#80ffff"/>
<rect x="280" y="318" width="12" height="2" fill="#80ffff"/>
<rect x="296" y="318" width="4" height="2" fill="#80ffff"/>
<rect x="304" y="318" width="2" height="2" fill="#80ffff"/>
<rect x="308" y="318" width="6" height="2" fill="#80ffff"/>
<rect x="320" y="318" width="2" height="2" fill="#80ffff"/>
<rect x="324" y="318" width="2" height="2" fill="#80ffff"/>
<rect x="336" y="318" width="2" height="2" fill="#80ffff"/>
<rect x="340" y="318" width="6" height="2" fill="#80ffff"/>
<rect x="350" y="318" width="2" height="2" fill="#80ffff"/>
<rect x="356" y="318" width="2" height="2" fill="#80ffff"/>
<rect x="366" y="318" width="8" height="2" fill="#80ffff"/>
<rect x="388" y="318" width="2" height="2" fill="#80ffff"/>
<rect x="394" y="318" width="2" height="2" fill="#80ffff"/>
<rect x="410" y="318" width="2" height="2" fill="#80ffff"/>
<rect x="426" y="318" width="4" height="2" fill="#80ffff"/>
<rect x="432" y="318" width="4" height="2" fill="#80ffff"/>
<rect x="458" y="318" width="2" height="2" fill="#80ffff"/>
<rect x="470" y="318" width="4" height="2" fill="#80ffff"/>
<rect x="498" y="318" width="2" height="2" fill="#80ffff"/>
<rect x="504" y="318" width="2" height="2" fill="#80ffff"/>
<rect x="508" y="318" width="4" height="2" fill="#80ffff"/>
<rect x="508" y="502" width="4" height="2" fill="#80ffff"/>
<rect x="514" y="318" width="2" height="2" fill="#80ffff"/>
<rect x="514" y="532" width="2" height="24" fill="#80ffff"/>
<rect x="524" y="318" width="2" height="2" fill="#80ffff"/>
<rect x="528" y="318" width="2" height="2" fill="#80ffff"/>
<rect x="540" y="318" width="4" height="2" fill="#80ffff"/>
<rect x="540" y="426" width="4" height="12" fill="#80ffff"/>
<rect x="540" y="466" width="4" height="6" fill="#80ffff"/>
<rect x="540" y="504" width="4" height="2" fill="#80ffff"/>
<rect x="556" y="318" width="4" height="2" fill="#80ffff"/>
<rect x="564" y="318" width="4" height="2" fill="#80ffff"/>
<rect x="572" y="318" width="4" height="2" fill="#80ffff"/>
<rect x="578" y="318" width="8" height="2" fill="#80ffff"/>
<rect x="592" y="318" width="2" height="2" fill="#80ffff"/>
<rect x="596" y="318" width="4" height="2" fill="#80ffff"/>
<rect x="604" y="318" width="2" height="2" fill="#80ffff"/>
<rect x="608" y="318" width="2" height="2" fill="#80ffff"/>
<rect x="614" y="318" width="2" height="2" fill="#80ffff"/>
<rect x="624" y="318" width="2" height="2" fill="#80ffff"/>
<rect x="634" y="318" width="10" height="2" fill="#80ffff"/>
<rect x="652" y="318" width="4" height="2" fill="#80ffff"/>
<rect x="664" y="318" width="2" height="2" fill="#80ffff"/>
<rect x="678" y="318" width="2" height="2" fill="#80ffff"/>
<rect x="682" y="318" width="4" height="2" fill="#80ffff"/>
<rect x="692" y="318" width="2" height="2" fill="#80ffff"/>
<rect x="696" y="318" width="2" height="2" fill="#80ffff"/>
<rect x="706" y="318" width="2" height="2" fill="#80ffff"/>
<rect x="722" y="318" width="2" height="2" fill="#80ffff"/>
<rect x="734" y="318" width="6" height="2" fill="#80ffff"/>
<rect x="746" y="318" width="4" height="2" fill="#80ffff"/>
<rect x="34" y="320" width="2" height="2" fill="#00ffff"/>
<rect x="36" y="320" width="2" height="2" fill="#80ffff"/>
<rect x="36" y="324" width="2" height="2" fill="#80ffff"/>
<rect x="40" y="320" width="2" height="2" fill="#80ffff"/>
<rect x="40" y="324" width="2" height="2" fill="#80ffff"/>
<rect x="42" y="320" width="4" height="2" fill="#00ffff"/>
<rect x="52" y="320" width="2" height="4" fill="#00ffff"/>
<rect x="60" y="320" width="2" height="4" fill="#00ffff"/>
<rect x="86" y="320" width="2" height="4" fill="#00ffff"/>
<rect x="94" y="320" width="2" height="4" fill="#00ffff"/>
<rect x="98" y="320" width="2" height="4" fill="#00ffff"/>
<rect x="106" y="320" width="2" height="4" fill="#00ffff"/>
<rect x="112" y="320" width="2" height="2" fill="#80ffff"/>
<rect x="112" y="324" width="2" height="2" fill="#80ffff"/>
<rect x="120" y="320" width="2" height="4" fill="#00ffff"/>
<rect x="120" y="484" width="2" height="12" fill="#00ffff"/>
<rect x="120" y="512" width="2" height="18" fill="#00ffff"/>
<rect x="130" y="320" width="6" height="4" fill="#00ffff"/>
<rect x="150" y="320" width="2" height="4" fill="#00ffff"/>
<rect x="156" y="320" width="8" height="4" fill="#00ffff"/>
<rect x="178" y="320" width="4" height="4" fill="#00ffff"/>
<rect x="186" y="320" width="2" height="4" fill="#00ffff"/>
<rect x="192" y="320" width="2" height="4" fill="#00ffff"/>
<rect x="200" y="320" width="2" height="4" fill="#00ffff"/>
<rect x="204" y="320" width="4" height="4" fill="#00ffff"/>
<rect x="222" y="320" width="2" height="4" fill="#00ffff"/>
<rect x="226" y="320" width="2" height="4" fill="#00ffff"/>
<rect x="236" y="320" width="2" height="4" fill="#00ffff"/>
<rect x="246" y="320" width="2" height="4" fill="#00ffff"/>
<rect x="250" y="320" width="2" height="4" fill="#00ffff"/>
<rect x="260" y="320" width="2" height="4" fill="#00ffff"/>
<rect x="266" y="320" width="4" height="4" fill="#00ffff"/>
<rect x="280" y="320" width="12" height="4" fill="#00ffff"/>
<rect x="296" y="320" width="4" height="4" fill="#00ffff"/>
<rect x="304" y="320" width="2" height="4" fill="#00ffff"/>
<rect x="308" y="320" width="6" height="4" fill="#00ffff"/>
<rect x="320" y="320" width="2" height="4" fill="#00ffff"/>
<rect x="324" y="320" width="2" height="4" fill="#00ffff"/>
<rect x="336" y="320" width="2" height="4" fill="#00ffff"/>
<rect x="340" y="320" width="6" height="4" fill="#00ffff"/>
<rect x="350" y="320" width="2" height="4" fill="#00ffff"/>
<rect x="356" y="320" width="2" height="4" fill="#00ffff"/>
<rect x="366" y="320" width="8" height="4" fill="#00ffff"/>
<rect x="388" y="320" width="2" height="4" fill="#00ffff"/>
<rect x="394" y="320" width="2" height="4" fill="#00ffff"/>
<rect x="402" y="320" width="2" height="4" fill="#00ffff"/>
<rect x="406" y="320" width="2" height="4" fill="#00ffff"/>
<rect x="410" y="320" width="2" height="4" fill="#00ffff"/>
<rect x="414" y="320" width="2" height="4" fill="#00ffff"/>
<rect x="426" y="320" width="4" height="4" fill="#00ffff"/>
<rect x="432" y="320" width="4" height="4" fill="#00ffff"/>
<rect x="458" y="320" width="2" height="4" fill="#00ffff"/>
<rect x="470" y="320" width="4" height="4" fill="#00ffff"/>
<rect x="488" y="320" width="2" height="4" fill="#00ffff"/>
<rect x="488" y="448" width="2" height="4" fill="#00ffff"/>
<rect x="498" y="320" width="2" height="4" fill="#00ffff"/>
<rect x="498" y="468" width="2" height="10" fill="#00ffff"/>
<rect x="504" y="320" width="2" height="4" fill="#00ffff"/>
<rect x="508" y="320" width="4" height="4" fill="#00ffff"/>
<rect x="514" y="320" width="2" height="4" fill="#00ffff"/>
<rect x="514" y="428" width="2" height="4" fill="#00ffff"/>
<rect x="514" y="446" width="2" height="10" fill="#00ffff"/>
<rect x="524" y="320" width="2" height="4" fill="#00ffff"/>
<rect x="524" y="430" width="2" height="4" fill="#00ffff"/>
<rect x="528" y="320" width="2" height="4" fill="#00ffff"/>
<rect x="540" y="320" width="4" height="4" fill="#00ffff"/>
<rect x="540" y="398" width="4" height="2" fill="#00ffff"/>
<rect x="556" y="320" width="4" height="4" fill="#00ffff"/>
<rect x="564" y="320" width="4" height="4" fill="#00ffff"/>
<rect x="572" y="320" width="4" height="4" fill="#00ffff"/>
<rect x="578" y="320" width="8" height="4" fill="#00ffff"/>
<rect x="592" y="320" width="2" height="4" fill="#00ffff"/>
<rect x="596" y="320" width="4" height="4" fill="#00ffff"/>
<rect x="604" y="320" width="2" height="4" fill="#00ffff"/>
<rect x="608" y="320" width="2" height="4" fill="#00ffff"/>
<rect x="614" y="320" width="2" height="4" fill="#00ffff"/>
<rect x="618" y="320" width="2" height="4" fill="#00ffff"/>
<rect x="624" y="320" width="2" height="4" fill="#00ffff"/>
<rect x="634" y="320" width="10" height="4" fill="#00ffff"/>
<rect x="652" y="320" width="4" height="4" fill="#00ffff"/>
<rect x="658" y="320" width="2" height="4" fill="#00ffff"/>
<rect x="664" y="320" width="2" height="4" fill="#00ffff"/>
<rect x="678" y="320" width="2" height="4" fill="#00ffff"/>
<rect x="682" y="320" width="4" height="4" fill="#00ffff"/>
<rect x="692" y="320" width="2" height="4" fill="#00ffff"/>
<rect x="696" y="320" width="2" height="4" fill="#00ffff"/>
<rect x="706" y="320" width="2" height="4" fill="#00ffff"/>
<rect x="712" y="320" width="2" height="2" fill="#80ffff"/>
<rect x="712" y="324" width="2" height="2" fill="#80ffff"/>
<rect x="722" y="320" width="2" height="4" fill="#00ffff"/>
<rect x="734" y="320" width="6" height="4" fill="#00ffff"/>
<rect x="746" y="320" width="4" height="4" fill="#00ffff"/>
<rect x="34" y="322" width="4" height="2" fill="#00ffff"/>
<rect x="40" y="322" width="6" height="2" fill="#00ffff"/>
<rect x="112" y="322" width="2" height="2" fill="#00ffff"/>
<rect x="712" y="322" width="2" height="2" fill="#00ffff"/>
<rect x="298" y="324" width="2" height="2" fill="#80ffff"/>
<rect x="434" y="324" width="2" height="2" fill="#80ffff"/>
<rect x="558" y="324" width="2" height="2" fill="#80ffff"/>
<rect x="640" y="324" width="4" height="2" fill="#80ffff"/>
<rect x="684" y="324" width="2" height="2" fill="#80ffff"/>
<rect x="464" y="386" width="2" height="4" fill="#00ffff"/>
<rect x="460" y="388" width="2" height="6" fill="#00ffff"/>
<rect x="506" y="390" width="2" height="6" fill="#00ffff"/>
<rect x="510" y="390" width="6" height="2" fill="#00ffff"/>
<rect x="510" y="392" width="2" height="2" fill="#0080ff"/>
<rect x="510" y="396" width="2" height="8" fill="#0080ff"/>
<rect x="510" y="506" width="2" height="4" fill="#0080ff"/>
<rect x="512" y="392" width="4" height="2" fill="#00ffff"/>
<rect x="490" y="394" width="2" height="6" fill="#00ffff"/>
<rect x="490" y="422" width="2" height="2" fill="#00ffff"/>
<rect x="490" y="426" width="2" height="2" fill="#00ffff"/>
<rect x="490" y="434" width="2" height="4" fill="#00ffff"/>
<rect x="510" y="394" width="4" height="2" fill="#0080ff"/>
<rect x="514" y="394" width="2" height="2" fill="#0000ff"/>
<rect x="514" y="420" width="2" height="2" fill="#0000ff"/>
<rect x="514" y="462" width="2" height="4" fill="#0000ff"/>
<rect x="514" y="486" width="2" height="16" fill="#0000ff"/>
<rect x="514" y="516" width="2" height="16" fill="#0000ff"/>
<rect x="516" y="394" width="2" height="4" fill="#00ffff"/>
<rect x="516" y="556" width="2" height="2" fill="#00ffff"/>
<rect x="542" y="394" width="2" height="4" fill="#00ffff"/>
<rect x="542" y="460" width="2" height="2" fill="#00ffff"/>
<rect x="484" y="396" width="2" height="2" fill="#00ffff"/>
<rect x="484" y="402" width="2" height="2" fill="#00ffff"/>
<rect x="484" y="436" width="2" height="2" fill="#00ffff"/>
<rect x="494" y="396" width="4" height="2" fill="#00ffff"/>
<rect x="494" y="462" width="4" height="4" fill="#00ffff"/>
<rect x="506" y="396" width="2" height="2" fill="#0000ff"/>
<rect x="508" y="396" width="2" height="2" fill="#00ffff"/>
<rect x="508" y="402" width="2" height="4" fill="#00ffff"/>
<rect x="508" y="408" width="2" height="2" fill="#00ffff"/>
<rect x="508" y="482" width="2" height="4" fill="#00ffff"/>
<rect x="512" y="396" width="4" height="4" fill="#0000ff"/>
<rect x="512" y="422" width="4" height="6" fill="#0000ff"/>
<rect x="474" y="398" width="2" height="6" fill="#00ffff"/>
<rect x="484" y="398" width="4" height="4" fill="#00ffff"/>
<rect x="484" y="434" width="4" height="2" fill="#00ffff"/>
<rect x="488" y="398" width="2" height="4" fill="#80ffff"/>
<rect x="488" y="434" width="2" height="2" fill="#80ffff"/>
<rect x="488" y="510" width="2" height="6" fill="#80ffff"/>
<rect x="492" y="398" width="2" height="2" fill="#80ffff"/>
<rect x="494" y="398" width="8" height="2" fill="#00ffff"/>
<rect x="504" y="398" width="6" height="2" fill="#00ffff"/>
<rect x="516" y="398" width="2" height="2" fill="#00c800"/>
<rect x="516" y="468" width="2" height="2" fill="#00c800"/>
<rect x="516" y="528" width="2" height="16" fill="#00c800"/>
<rect x="516" y="550" width="2" height="4" fill="#00c800"/>
<rect x="490" y="400" width="2" height="2" fill="#0080ff"/>
<rect x="492" y="400" width="8" height="2" fill="#00ffff"/>
<rect x="492" y="448" width="8" height="4" fill="#00ffff"/>
<rect x="500" y="400" width="2" height="2" fill="#80ffff"/>
<rect x="500" y="546" width="2" height="2" fill="#80ffff"/>
<rect x="504" y="400" width="4" height="2" fill="#00ffff"/>
<rect x="504" y="480" width="4" height="2" fill="#00ffff"/>
<rect x="508" y="400" width="2" height="2" fill="#80ffff"/>
<rect x="508" y="490" width="2" height="2" fill="#80ffff"/>
<rect x="512" y="400" width="2" height="6" fill="#0000ff"/>
<rect x="512" y="428" width="2" height="30" fill="#0000ff"/>
<rect x="512" y="502" width="2" height="4" fill="#0000ff"/>
<rect x="512" y="510" width="2" height="2" fill="#0000ff"/>
<rect x="514" y="400" width="2" height="2" fill="#00c800"/>
<rect x="514" y="416" width="2" height="2" fill="#00c800"/>
<rect x="514" y="466" width="2" height="2" fill="#00c800"/>
<rect x="514" y="504" width="2" height="2" fill="#00c800"/>
<rect x="514" y="514" width="2" height="2" fill="#00c800"/>
<rect x="516" y="400" width="2" height="2" fill="#80ff40"/>
<rect x="516" y="410" width="2" height="2" fill="#80ff40"/>
<rect x="516" y="484" width="2" height="20" fill="#80ff40"/>
<rect x="540" y="400" width="2" height="2" fill="#00ffff"/>
<rect x="540" y="410" width="2" height="4" fill="#00ffff"/>
<rect x="540" y="422" width="2" height="2" fill="#00ffff"/>
<rect x="540" y="440" width="2" height="4" fill="#00ffff"/>
<rect x="540" y="510" width="2" height="4" fill="#00ffff"/>
<rect x="486" y="402" width="4" height="6" fill="#0080ff"/>
<rect x="490" y="402" width="2" height="2" fill="#0000ff"/>
<rect x="490" y="416" width="2" height="6" fill="#0000ff"/>
<rect x="490" y="448" width="2" height="4" fill="#0000ff"/>
<rect x="492" y="402" width="10" height="2" fill="#0080ff"/>
<rect x="502" y="402" width="4" height="4" fill="#00ffff"/>
<rect x="514" y="402" width="2" height="8" fill="#80ff40"/>
<rect x="514" y="468" width="2" height="2" fill="#80ff40"/>
<rect x="514" y="472" width="2" height="2" fill="#80ff40"/>
<rect x="514" y="480" width="2" height="2" fill="#80ff40"/>
<rect x="514" y="512" width="2" height="2" fill="#80ff40"/>
<rect x="516" y="402" width="2" height="8" fill="#ffff00"/>
<rect x="516" y="472" width="2" height="2" fill="#ffff00"/>
<rect x="516" y="482" width="2" height="2" fill="#ffff00"/>
<rect x="516" y="526" width="2" height="2" fill="#ffff00"/>
<rect x="516" y="544" width="2" height="4" fill="#ffff00"/>
<rect x="518" y="402" width="2" height="2" fill="#00ffff"/>
<rect x="518" y="424" width="2" height="2" fill="#00ffff"/>
<rect x="518" y="448" width="2" height="4" fill="#00ffff"/>
<rect x="518" y="456" width="2" height="4" fill="#00ffff"/>
<rect x="518" y="466" width="2" height="2" fill="#00ffff"/>
<rect x="518" y="560" width="2" height="2" fill="#00ffff"/>
<rect x="534" y="402" width="2" height="2" fill="#00ffff"/>
<rect x="534" y="450" width="2" height="6" fill="#00ffff"/>
<rect x="534" y="504" width="2" height="16" fill="#00ffff"/>
<rect x="538" y="402" width="4" height="4" fill="#00ffff"/>
<rect x="538" y="414" width="4" height="8" fill="#00ffff"/>
<rect x="538" y="508" width="4" height="2" fill="#00ffff"/>
<rect x="538" y="514" width="4" height="12" fill="#00ffff"/>
<rect x="538" y="542" width="4" height="6" fill="#00ffff"/>
<rect x="476" y="404" width="2" height="2" fill="#00ffff"/>
<rect x="476" y="408" width="2" height="4" fill="#00ffff"/>
<rect x="490" y="404" width="4" height="2" fill="#0000ff"/>
<rect x="490" y="412" width="4" height="4" fill="#0000ff"/>
<rect x="494" y="404" width="2" height="2" fill="#0080ff"/>
<rect x="496" y="404" width="4" height="2" fill="#0000ff"/>
<rect x="500" y="404" width="2" height="4" fill="#0080ff"/>
<rect x="500" y="414" width="2" height="6" fill="#0080ff"/>
<rect x="510" y="404" width="2" height="4" fill="#80ffff"/>
<rect x="518" y="404" width="2" height="6" fill="#0080ff"/>
<rect x="518" y="418" width="2" height="2" fill="#0080ff"/>
<rect x="518" y="468" width="2" height="2" fill="#0080ff"/>
<rect x="532" y="404" width="4" height="2" fill="#00ffff"/>
<rect x="532" y="520" width="4" height="6" fill="#00ffff"/>
<rect x="474" y="406" width="4" height="2" fill="#00ffff"/>
<rect x="480" y="406" width="2" height="2" fill="#80ffff"/>
<rect x="480" y="410" width="2" height="6" fill="#80ffff"/>
<rect x="490" y="406" width="10" height="2" fill="#0000ff"/>
<rect x="502" y="406" width="2" height="2" fill="#00ffff"/>
<rect x="502" y="412" width="2" height="4" fill="#00ffff"/>
<rect x="506" y="406" width="4" height="2" fill="#00ffff"/>
<rect x="512" y="406" width="2" height="4" fill="#00c800"/>
<rect x="512" y="418" width="2" height="4" fill="#00c800"/>
<rect x="512" y="458" width="2" height="4" fill="#00c800"/>
<rect x="512" y="506" width="2" height="4" fill="#00c800"/>
<rect x="526" y="406" width="2" height="4" fill="#00ffff"/>
<rect x="526" y="414" width="2" height="10" fill="#00ffff"/>
<rect x="532" y="406" width="2" height="2" fill="#00ffff"/>
<rect x="532" y="412" width="2" height="6" fill="#00ffff"/>
<rect x="532" y="456" width="2" height="2" fill="#00ffff"/>
<rect x="534" y="406" width="2" height="2" fill="#0000ff"/>
<rect x="534" y="460" width="2" height="6" fill="#0000ff"/>
<rect x="534" y="486" width="2" height="4" fill="#0000ff"/>
<rect x="536" y="406" width="6" height="2" fill="#00ffff"/>
<rect x="536" y="538" width="6" height="4" fill="#00ffff"/>
<rect x="472" y="408" width="2" height="6" fill="#00ffff"/>
<rect x="486" y="408" width="2" height="4" fill="#0080ff"/>
<rect x="488" y="408" width="12" height="2" fill="#0000ff"/>
<rect x="500" y="408" width="4" height="2" fill="#0080ff"/>
<rect x="500" y="476" width="4" height="2" fill="#0080ff"/>
<rect x="506" y="408" width="2" height="6" fill="#0080ff"/>
<rect x="532" y="408" width="10" height="2" fill="#00ffff"/>
<rect x="488" y="410" width="4" height="2" fill="#0000ff"/>
<rect x="492" y="410" width="4" height="2" fill="#0080ff"/>
<rect x="492" y="420" width="4" height="4" fill="#0080ff"/>
<rect x="496" y="410" width="2" height="2" fill="#0000ff"/>
<rect x="498" y="410" width="2" height="2" fill="#0080ff"/>
<rect x="498" y="436" width="2" height="4" fill="#0080ff"/>
<rect x="500" y="410" width="2" height="2" fill="#0000ff"/>
<rect x="500" y="436" width="2" height="10" fill="#0000ff"/>
<rect x="500" y="448" width="2" height="6" fill="#0000ff"/>
<rect x="500" y="470" width="2" height="2" fill="#0000ff"/>
<rect x="502" y="410" width="2" height="2" fill="#0080ff"/>
<rect x="504" y="410" width="2" height="6" fill="#0000ff"/>
<rect x="508" y="410" width="2" height="4" fill="#0000ff"/>
<rect x="508" y="480" width="2" height="2" fill="#0000ff"/>
<rect x="512" y="410" width="4" height="2" fill="#00c800"/>
<rect x="512" y="482" width="4" height="2" fill="#00c800"/>
<rect x="518" y="410" width="2" height="6" fill="#0000ff"/>
<rect x="518" y="470" width="2" height="2" fill="#0000ff"/>
<rect x="518" y="558" width="2" height="2" fill="#0000ff"/>
<rect x="526" y="410" width="10" height="2" fill="#00ffff"/>
<rect x="488" y="412" width="2" height="6" fill="#0080ff"/>
<rect x="488" y="440" width="2" height="6" fill="#0080ff"/>
<rect x="494" y="412" width="2" height="4" fill="#00c800"/>
<rect x="496" y="412" width="2" height="4" fill="#0080ff"/>
<rect x="496" y="430" width="2" height="4" fill="#0080ff"/>
<rect x="498" y="412" width="4" height="2" fill="#0000ff"/>
<rect x="498" y="432" width="4" height="4" fill="#0000ff"/>
<rect x="512" y="412" width="6" height="4" fill="#00c800"/>
<rect x="526" y="412" width="2" height="2" fill="#0000ff"/>
<rect x="526" y="434" width="2" height="10" fill="#0000ff"/>
<rect x="526" y="450" width="2" height="2" fill="#0000ff"/>
<rect x="526" y="518" width="2" height="2" fill="#0000ff"/>
<rect x="528" y="412" width="4" height="4" fill="#0080ff"/>
<rect x="528" y="418" width="4" height="10" fill="#0080ff"/>
<rect x="536" y="412" width="2" height="2" fill="#00ffff"/>
<rect x="536" y="456" width="2" height="4" fill="#00ffff"/>
<rect x="536" y="482" width="2" height="6" fill="#00ffff"/>
<rect x="498" y="414" width="2" height="6" fill="#0000ff"/>
<rect x="498" y="456" width="2" height="12" fill="#0000ff"/>
<rect x="506" y="414" width="4" height="2" fill="#0080ff"/>
<rect x="492" y="416" width="2" height="4" fill="#0080ff"/>
<rect x="494" y="416" width="4" height="4" fill="#00c800"/>
<rect x="502" y="416" width="4" height="4" fill="#0000ff"/>
<rect x="506" y="416" width="2" height="2" fill="#00c800"/>
<rect x="508" y="416" width="2" height="2" fill="#0080ff"/>
<rect x="510" y="416" width="2" height="6" fill="#0000ff"/>
<rect x="510" y="482" width="2" height="2" fill="#0000ff"/>
<rect x="512" y="416" width="2" height="2" fill="#0080ff"/>
<rect x="512" y="486" width="2" height="16" fill="#0080ff"/>
<rect x="512" y="512" width="2" height="2" fill="#0080ff"/>
<rect x="516" y="416" width="4" height="2" fill="#0000ff"/>
<rect x="528" y="416" width="2" height="2" fill="#0080ff"/>
<rect x="528" y="434" width="2" height="10" fill="#0080ff"/>
<rect x="528" y="448" width="2" height="4" fill="#0080ff"/>
<rect x="528" y="540" width="2" height="2" fill="#0080ff"/>
<rect x="530" y="416" width="2" height="2" fill="#0000ff"/>
<rect x="530" y="456" width="2" height="2" fill="#0000ff"/>
<rect x="530" y="524" width="2" height="2" fill="#0000ff"/>
<rect x="506" y="418" width="4" height="4" fill="#00c800"/>
<rect x="514" y="418" width="4" height="2" fill="#0000ff"/>
<rect x="482" y="420" width="2" height="4" fill="#00ffff"/>
<rect x="496" y="420" width="2" height="4" fill="#00c800"/>
<rect x="498" y="420" width="6" height="2" fill="#0000ff"/>
<rect x="498" y="426" width="6" height="6" fill="#0000ff"/>
<rect x="504" y="420" width="2" height="2" fill="#0080ff"/>
<rect x="516" y="420" width="4" height="2" fill="#0080ff"/>
<rect x="498" y="422" width="8" height="2" fill="#0000ff"/>
<rect x="506" y="422" width="6" height="4" fill="#00c800"/>
<rect x="516" y="422" width="4" height="2" fill="#00ffff"/>
<rect x="482" y="424" width="4" height="4" fill="#00ffff"/>
<rect x="490" y="424" width="4" height="2" fill="#00ffff"/>
<rect x="494" y="424" width="4" height="2" fill="#0080ff"/>
<rect x="494" y="428" width="4" height="2" fill="#0080ff"/>
<rect x="498" y="424" width="2" height="2" fill="#00c800"/>
<rect x="500" y="424" width="6" height="2" fill="#0000ff"/>
<rect x="500" y="474" width="6" height="2" fill="#0000ff"/>
<rect x="540" y="424" width="2" height="2" fill="#80ffff"/>
<rect x="540" y="456" width="2" height="2" fill="#80ffff"/>
<rect x="540" y="462" width="2" height="4" fill="#80ffff"/>
<rect x="540" y="472" width="2" height="2" fill="#80ffff"/>
<rect x="540" y="500" width="2" height="4" fill="#80ffff"/>
<rect x="492" y="426" width="6" height="2" fill="#0080ff"/>
<rect x="504" y="426" width="8" height="2" fill="#00c800"/>
<rect x="482" y="428" width="6" height="4" fill="#00ffff"/>
<rect x="492" y="428" width="2" height="2" fill="#00ffff"/>
<rect x="492" y="456" width="2" height="4" fill="#00ffff"/>
<rect x="504" y="428" width="2" height="2" fill="#00c800"/>
<rect x="504" y="446" width="2" height="2" fill="#00c800"/>
<rect x="504" y="472" width="2" height="2" fill="#00c800"/>
<rect x="506" y="428" width="4" height="2" fill="#80ff40"/>
<rect x="510" y="428" width="2" height="2" fill="#00c800"/>
<rect x="524" y="428" width="8" height="2" fill="#00ffff"/>
<rect x="492" y="430" width="4" height="2" fill="#00ffff"/>
<rect x="504" y="430" width="8" height="2" fill="#80ff40"/>
<rect x="526" y="430" width="4" height="4" fill="#0080ff"/>
<rect x="526" y="444" width="4" height="4" fill="#0080ff"/>
<rect x="482" y="432" width="8" height="2" fill="#00ffff"/>
<rect x="494" y="432" width="2" height="2" fill="#00ffff"/>
<rect x="494" y="468" width="2" height="8" fill="#00ffff"/>
<rect x="502" y="432" width="8" height="8" fill="#80ff40"/>
<rect x="510" y="432" width="2" height="8" fill="#ffff00"/>
<rect x="524" y="434" width="2" height="10" fill="#0080ff"/>
<rect x="524" y="522" width="2" height="2" fill="#0080ff"/>
<rect x="486" y="436" width="4" height="2" fill="#80ffff"/>
<rect x="486" y="446" width="4" height="2" fill="#80ffff"/>
<rect x="486" y="438" width="8" height="2" fill="#80ffff"/>
<rect x="540" y="438" width="6" height="2" fill="#80ffff"/>
<rect x="486" y="440" width="2" height="6" fill="#00ffff"/>
<rect x="490" y="440" width="10" height="8" fill="#00ffff"/>
<rect x="490" y="454" width="10" height="2" fill="#00ffff"/>
<rect x="502" y="440" width="2" height="2" fill="#80ff40"/>
<rect x="502" y="464" width="2" height="2" fill="#80ff40"/>
<rect x="502" y="468" width="2" height="2" fill="#80ff40"/>
<rect x="504" y="440" width="8" height="2" fill="#ffff00"/>
<rect x="522" y="440" width="2" height="12" fill="#00ffff"/>
<rect x="544" y="440" width="2" height="2" fill="#00ffff"/>
<rect x="544" y="466" width="2" height="4" fill="#00ffff"/>
<rect x="502" y="442" width="2" height="4" fill="#00c800"/>
<rect x="502" y="448" width="2" height="4" fill="#00c800"/>
<rect x="502" y="470" width="2" height="2" fill="#00c800"/>
<rect x="504" y="442" width="2" height="4" fill="#80ff40"/>
<rect x="504" y="448" width="2" height="2" fill="#80ff40"/>
<rect x="504" y="470" width="2" height="2" fill="#80ff40"/>
<rect x="506" y="442" width="6" height="4" fill="#ffff00"/>
<rect x="544" y="442" width="4" height="2" fill="#00ffff"/>
<rect x="524" y="444" width="2" height="4" fill="#0000ff"/>
<rect x="530" y="444" width="2" height="12" fill="#00ffff"/>
<rect x="544" y="444" width="2" height="6" fill="#0000ff"/>
<rect x="544" y="452" width="2" height="6" fill="#0000ff"/>
<rect x="546" y="444" width="2" height="6" fill="#00ffff"/>
<rect x="500" y="446" width="4" height="2" fill="#0000ff"/>
<rect x="500" y="472" width="4" height="2" fill="#0000ff"/>
<rect x="506" y="446" width="4" height="2" fill="#ffff00"/>
<rect x="506" y="472" width="4" height="2" fill="#ffff00"/>
<rect x="510" y="446" width="2" height="16" fill="#80ff40"/>
<rect x="510" y="464" width="2" height="2" fill="#80ff40"/>
<rect x="506" y="448" width="2" height="16" fill="#ff8000"/>
<rect x="508" y="448" width="2" height="16" fill="#ffff00"/>
<rect x="508" y="474" width="2" height="2" fill="#ffff00"/>
<rect x="524" y="448" width="4" height="2" fill="#0000ff"/>
<rect x="504" y="450" width="2" height="2" fill="#ffff00"/>
<rect x="504" y="462" width="2" height="2" fill="#ffff00"/>
<rect x="504" y="468" width="2" height="2" fill="#ffff00"/>
<rect x="524" y="450" width="2" height="2" fill="#00c800"/>
<rect x="524" y="466" width="2" height="2" fill="#00c800"/>
<rect x="542" y="450" width="4" height="2" fill="#00ffff"/>
<rect x="542" y="462" width="4" height="4" fill="#00ffff"/>
<rect x="488" y="452" width="12" height="2" fill="#00ffff"/>
<rect x="502" y="452" width="4" height="10" fill="#ffff00"/>
<rect x="518" y="452" width="6" height="4" fill="#00ffff"/>
<rect x="524" y="452" width="2" height="2" fill="#80ff40"/>
<rect x="524" y="478" width="2" height="4" fill="#80ff40"/>
<rect x="526" y="452" width="4" height="2" fill="#0000ff"/>
<rect x="538" y="452" width="6" height="4" fill="#00ffff"/>
<rect x="500" y="454" width="2" height="6" fill="#00c800"/>
<rect x="500" y="464" width="2" height="2" fill="#00c800"/>
<rect x="500" y="468" width="2" height="2" fill="#00c800"/>
<rect x="524" y="454" width="2" height="2" fill="#ffff00"/>
<rect x="524" y="518" width="2" height="2" fill="#ffff00"/>
<rect x="526" y="454" width="2" height="2" fill="#80ff40"/>
<rect x="528" y="454" width="2" height="2" fill="#0000ff"/>
<rect x="528" y="526" width="2" height="14" fill="#0000ff"/>
<rect x="494" y="456" width="2" height="2" fill="#80ffff"/>
<rect x="496" y="456" width="2" height="6" fill="#00ffff"/>
<rect x="514" y="456" width="2" height="6" fill="#0080ff"/>
<rect x="514" y="502" width="2" height="2" fill="#0080ff"/>
<rect x="520" y="456" width="4" height="2" fill="#0000ff"/>
<rect x="520" y="460" width="4" height="6" fill="#0000ff"/>
<rect x="520" y="522" width="4" height="2" fill="#0000ff"/>
<rect x="520" y="526" width="4" height="2" fill="#0000ff"/>
<rect x="524" y="456" width="2" height="2" fill="#ff8000"/>
<rect x="524" y="464" width="2" height="2" fill="#ff8000"/>
<rect x="524" y="488" width="2" height="2" fill="#ff8000"/>
<rect x="524" y="516" width="2" height="2" fill="#ff8000"/>
<rect x="526" y="456" width="2" height="2" fill="#ffff00"/>
<rect x="528" y="456" width="2" height="2" fill="#00c800"/>
<rect x="528" y="524" width="2" height="2" fill="#00c800"/>
<rect x="542" y="456" width="2" height="2" fill="#0080ff"/>
<rect x="520" y="458" width="2" height="2" fill="#0080ff"/>
<rect x="520" y="466" width="2" height="2" fill="#0080ff"/>
<rect x="520" y="470" width="2" height="2" fill="#0080ff"/>
<rect x="520" y="524" width="2" height="2" fill="#0080ff"/>
<rect x="522" y="458" width="2" height="2" fill="#0000ff"/>
<rect x="522" y="466" width="2" height="2" fill="#0000ff"/>
<rect x="524" y="458" width="4" height="4" fill="#ff0000"/>
<rect x="528" y="458" width="4" height="2" fill="#ffff00"/>
<rect x="532" y="458" width="2" height="2" fill="#00c800"/>
<rect x="532" y="492" width="2" height="2" fill="#00c800"/>
<rect x="532" y="508" width="2" height="4" fill="#00c800"/>
<rect x="532" y="514" width="2" height="4" fill="#00c800"/>
<rect x="538" y="458" width="10" height="2" fill="#80ffff"/>
<rect x="500" y="460" width="2" height="2" fill="#80ff40"/>
<rect x="528" y="460" width="2" height="2" fill="#ff8000"/>
<rect x="530" y="460" width="4" height="2" fill="#ffff00"/>
<rect x="536" y="460" width="6" height="2" fill="#80ffff"/>
<rect x="544" y="460" width="2" height="2" fill="#80ffff"/>
<rect x="500" y="462" width="4" height="2" fill="#80ff40"/>
<rect x="510" y="462" width="4" height="2" fill="#80ff40"/>
<rect x="524" y="462" width="2" height="2" fill="#ff0000"/>
<rect x="524" y="482" width="2" height="2" fill="#ff0000"/>
<rect x="524" y="514" width="2" height="2" fill="#ff0000"/>
<rect x="526" y="462" width="2" height="10" fill="#ff0080"/>
<rect x="526" y="482" width="2" height="6" fill="#ff0080"/>
<rect x="526" y="500" width="2" height="2" fill="#ff0080"/>
<rect x="528" y="462" width="2" height="10" fill="#ff0000"/>
<rect x="528" y="500" width="2" height="2" fill="#ff0000"/>
<rect x="530" y="462" width="2" height="4" fill="#ff8000"/>
<rect x="530" y="500" width="2" height="4" fill="#ff8000"/>
<rect x="532" y="462" width="2" height="4" fill="#ffff00"/>
<rect x="532" y="478" width="2" height="2" fill="#ffff00"/>
<rect x="532" y="488" width="2" height="4" fill="#ffff00"/>
<rect x="532" y="512" width="2" height="2" fill="#ffff00"/>
<rect x="536" y="462" width="4" height="20" fill="#00ffff"/>
<rect x="504" y="464" width="6" height="4" fill="#ff8000"/>
<rect x="512" y="464" width="2" height="2" fill="#ffff00"/>
<rect x="516" y="464" width="2" height="4" fill="#0080ff"/>
<rect x="500" y="466" width="4" height="2" fill="#00c800"/>
<rect x="510" y="466" width="4" height="2" fill="#ffff00"/>
<rect x="530" y="466" width="4" height="2" fill="#ff8000"/>
<rect x="530" y="470" width="4" height="2" fill="#ff8000"/>
<rect x="534" y="466" width="2" height="2" fill="#00c800"/>
<rect x="534" y="484" width="2" height="2" fill="#00c800"/>
<rect x="506" y="468" width="2" height="2" fill="#ff0000"/>
<rect x="508" y="468" width="6" height="2" fill="#ffff00"/>
<rect x="520" y="468" width="2" height="2" fill="#00ffff"/>
<rect x="522" y="468" width="4" height="8" fill="#00c800"/>
<rect x="530" y="468" width="2" height="2" fill="#ffff00"/>
<rect x="532" y="468" width="2" height="2" fill="#ff8000"/>
<rect x="532" y="484" width="2" height="4" fill="#ff8000"/>
<rect x="534" y="468" width="2" height="4" fill="#ffff00"/>
<rect x="506" y="470" width="2" height="2" fill="#ffff00"/>
<rect x="508" y="470" width="6" height="2" fill="#ff8000"/>
<rect x="514" y="470" width="4" height="2" fill="#80ff40"/>
<rect x="510" y="472" width="4" height="2" fill="#ff0000"/>
<rect x="518" y="472" width="4" height="2" fill="#0000ff"/>
<rect x="518" y="530" width="4" height="18" fill="#0000ff"/>
<rect x="518" y="550" width="4" height="4" fill="#0000ff"/>
<rect x="518" y="556" width="4" height="2" fill="#0000ff"/>
<rect x="526" y="472" width="4" height="2" fill="#ff0000"/>
<rect x="530" y="472" width="6" height="2" fill="#ff8000"/>
<rect x="506" y="474" width="2" height="2" fill="#80ff40"/>
<rect x="510" y="474" width="2" height="2" fill="#ff0000"/>
<rect x="512" y="474" width="2" height="2" fill="#ff8000"/>
<rect x="514" y="474" width="8" height="2" fill="#ffff00"/>
<rect x="526" y="474" width="2" height="4" fill="#ff0000"/>
<rect x="526" y="492" width="2" height="2" fill="#ff0000"/>
<rect x="526" y="512" width="2" height="2" fill="#ff0000"/>
<rect x="528" y="474" width="2" height="4" fill="#ff0080"/>
<rect x="528" y="492" width="2" height="2" fill="#ff0080"/>
<rect x="530" y="474" width="2" height="4" fill="#ff0000"/>
<rect x="530" y="492" width="2" height="2" fill="#ff0000"/>
<rect x="532" y="474" width="4" height="4" fill="#ff8000"/>
<rect x="532" y="480" width="4" height="4" fill="#ff8000"/>
<rect x="504" y="476" width="4" height="2" fill="#0000ff"/>
<rect x="508" y="476" width="2" height="2" fill="#80ff40"/>
<rect x="510" y="476" width="2" height="2" fill="#ff8000"/>
<rect x="512" y="476" width="2" height="2" fill="#80ff40"/>
<rect x="514" y="476" width="12" height="2" fill="#ffff00"/>
<rect x="124" y="478" width="2" height="4" fill="#80ffff"/>
<rect x="498" y="478" width="8" height="2" fill="#00ffff"/>
<rect x="506" y="478" width="4" height="2" fill="#0000ff"/>
<rect x="510" y="478" width="6" height="2" fill="#80ff40"/>
<rect x="516" y="478" width="8" height="2" fill="#ffff00"/>
<rect x="526" y="478" width="6" height="4" fill="#ff0000"/>
<rect x="526" y="488" width="6" height="2" fill="#ff0000"/>
<rect x="526" y="494" width="6" height="6" fill="#ff0000"/>
<rect x="534" y="478" width="2" height="2" fill="#ff8000"/>
<rect x="500" y="480" width="4" height="2" fill="#80ffff"/>
<rect x="510" y="480" width="4" height="2" fill="#00c800"/>
<rect x="516" y="480" width="6" height="2" fill="#ffff00"/>
<rect x="522" y="480" width="2" height="2" fill="#ff8000"/>
<rect x="522" y="518" width="2" height="2" fill="#ff8000"/>
<rect x="122" y="482" width="4" height="14" fill="#80ffff"/>
<rect x="500" y="482" width="8" height="2" fill="#80ffff"/>
<rect x="518" y="482" width="6" height="2" fill="#ff8000"/>
<rect x="528" y="482" width="4" height="6" fill="#ff0000"/>
<rect x="538" y="482" width="2" height="6" fill="#80ffff"/>
<rect x="502" y="484" width="6" height="2" fill="#80ffff"/>
<rect x="510" y="484" width="6" height="2" fill="#0000ff"/>
<rect x="518" y="484" width="2" height="16" fill="#ff8000"/>
<rect x="518" y="522" width="2" height="2" fill="#ff8000"/>
<rect x="520" y="484" width="6" height="4" fill="#ff0000"/>
<rect x="502" y="486" width="8" height="2" fill="#80ffff"/>
<rect x="502" y="548" width="8" height="4" fill="#80ffff"/>
<rect x="510" y="486" width="2" height="2" fill="#00ffff"/>
<rect x="510" y="504" width="2" height="2" fill="#00ffff"/>
<rect x="510" y="510" width="2" height="4" fill="#00ffff"/>
<rect x="502" y="488" width="10" height="2" fill="#80ffff"/>
<rect x="502" y="552" width="10" height="2" fill="#80ffff"/>
<rect x="520" y="488" width="4" height="2" fill="#ff0000"/>
<rect x="520" y="492" width="4" height="8" fill="#ff0000"/>
<rect x="520" y="504" width="4" height="4" fill="#ff0000"/>
<rect x="536" y="488" width="4" height="2" fill="#80ffff"/>
<rect x="502" y="490" width="4" height="4" fill="#80ffff"/>
<rect x="520" y="490" width="12" height="2" fill="#ff0000"/>
<rect x="534" y="490" width="6" height="6" fill="#80ffff"/>
<rect x="524" y="492" width="2" height="4" fill="#ff0080"/>
<rect x="116" y="494" width="4" height="2" fill="#80ffff"/>
<rect x="116" y="512" width="4" height="6" fill="#80ffff"/>
<rect x="532" y="494" width="2" height="4" fill="#0000ff"/>
<rect x="116" y="496" width="2" height="4" fill="#80ffff"/>
<rect x="116" y="508" width="2" height="4" fill="#80ffff"/>
<rect x="118" y="496" width="2" height="2" fill="#0080ff"/>
<rect x="120" y="496" width="2" height="2" fill="#0000ff"/>
<rect x="122" y="496" width="2" height="2" fill="#0080ff"/>
<rect x="524" y="496" width="2" height="4" fill="#ff00ff"/>
<rect x="524" y="506" width="2" height="2" fill="#ff00ff"/>
<rect x="538" y="496" width="4" height="4" fill="#80ffff"/>
<rect x="100" y="498" width="2" height="6" fill="#80ffff"/>
<rect x="100" y="508" width="2" height="2" fill="#80ffff"/>
<rect x="100" y="522" width="2" height="6" fill="#80ffff"/>
<rect x="118" y="498" width="2" height="2" fill="#0000ff"/>
<rect x="118" y="506" width="2" height="2" fill="#0000ff"/>
<rect x="120" y="498" width="2" height="2" fill="#00c800"/>
<rect x="122" y="498" width="2" height="10" fill="#0000ff"/>
<rect x="532" y="498" width="2" height="2" fill="#0080ff"/>
<rect x="532" y="506" width="2" height="2" fill="#0080ff"/>
<rect x="532" y="518" width="2" height="2" fill="#0080ff"/>
<rect x="104" y="500" width="4" height="8" fill="#80ffff"/>
<rect x="116" y="500" width="2" height="6" fill="#0000ff"/>
<rect x="118" y="500" width="2" height="6" fill="#00c800"/>
<rect x="120" y="500" width="2" height="8" fill="#ffff00"/>
<rect x="518" y="500" width="4" height="4" fill="#ff8000"/>
<rect x="522" y="500" width="4" height="2" fill="#ff0000"/>
<rect x="532" y="500" width="2" height="2" fill="#80ffff"/>
<rect x="532" y="504" width="2" height="2" fill="#80ffff"/>
<rect x="522" y="502" width="8" height="2" fill="#ff0000"/>
<rect x="532" y="502" width="4" height="2" fill="#80ffff"/>
<rect x="98" y="504" width="4" height="4" fill="#80ffff"/>
<rect x="506" y="504" width="4" height="14" fill="#80ffff"/>
<rect x="516" y="504" width="4" height="2" fill="#ffff00"/>
<rect x="524" y="504" width="8" height="2" fill="#ff00ff"/>
<rect x="536" y="504" width="2" height="22" fill="#80ffff"/>
<rect x="116" y="506" width="2" height="2" fill="#0080ff"/>
<rect x="514" y="506" width="6" height="2" fill="#ffff00"/>
<rect x="526" y="506" width="4" height="2" fill="#aa00aa"/>
<rect x="530" y="506" width="2" height="2" fill="#ff00ff"/>
<rect x="530" y="516" width="2" height="2" fill="#ff00ff"/>
<rect x="538" y="506" width="2" height="2" fill="#00ffff"/>
<rect x="538" y="548" width="2" height="4" fill="#00ffff"/>
<rect x="538" y="554" width="2" height="2" fill="#00ffff"/>
<rect x="540" y="506" width="8" height="2" fill="#80ffff"/>
<rect x="104" y="508" width="2" height="2" fill="#80ffff"/>
<rect x="104" y="542" width="2" height="2" fill="#80ffff"/>
<rect x="118" y="508" width="4" height="2" fill="#0000ff"/>
<rect x="122" y="508" width="2" height="2" fill="#00ffff"/>
<rect x="514" y="508" width="2" height="4" fill="#ffff00"/>
<rect x="516" y="508" width="2" height="2" fill="#ff8000"/>
<rect x="516" y="524" width="2" height="2" fill="#ff8000"/>
<rect x="518" y="508" width="2" height="2" fill="#ff0000"/>
<rect x="518" y="520" width="2" height="2" fill="#ff0000"/>
<rect x="520" y="508" width="2" height="2" fill="#aa00aa"/>
<rect x="522" y="508" width="4" height="2" fill="#ff00ff"/>
<rect x="522" y="512" width="4" height="2" fill="#ff00ff"/>
<rect x="526" y="508" width="6" height="2" fill="#aa00aa"/>
<rect x="542" y="508" width="6" height="18" fill="#80ffff"/>
<rect x="104" y="510" width="6" height="10" fill="#80ffff"/>
<rect x="118" y="510" width="4" height="2" fill="#00ffff"/>
<rect x="122" y="510" width="2" height="20" fill="#80ffff"/>
<rect x="516" y="510" width="2" height="4" fill="#ff0080"/>
<rect x="516" y="520" width="2" height="2" fill="#ff0080"/>
<rect x="518" y="510" width="4" height="4" fill="#aa00aa"/>
<rect x="522" y="510" width="6" height="2" fill="#ff00ff"/>
<rect x="528" y="510" width="4" height="4" fill="#aa00aa"/>
<rect x="538" y="510" width="2" height="4" fill="#0080ff"/>
<rect x="502" y="512" width="2" height="2" fill="#80ffff"/>
<rect x="496" y="514" width="8" height="4" fill="#80ffff"/>
<rect x="510" y="514" width="4" height="38" fill="#00ffff"/>
<rect x="516" y="514" width="2" height="2" fill="#ff00ff"/>
<rect x="516" y="518" width="2" height="2" fill="#ff00ff"/>
<rect x="518" y="514" width="2" height="2" fill="#aa00aa"/>
<rect x="518" y="518" width="2" height="2" fill="#aa00aa"/>
<rect x="520" y="514" width="2" height="2" fill="#000000"/>
<rect x="522" y="514" width="2" height="2" fill="#ff00ff"/>
<rect x="526" y="514" width="2" height="2" fill="#ff8000"/>
<rect x="528" y="514" width="2" height="2" fill="#ff00ff"/>
<rect x="530" y="514" width="2" height="2" fill="#ff0080"/>
<rect x="516" y="516" width="6" height="2" fill="#ff00ff"/>
<rect x="522" y="516" width="2" height="2" fill="#ff0080"/>
<rect x="526" y="516" width="2" height="2" fill="#00c800"/>
<rect x="526" y="522" width="2" height="2" fill="#00c800"/>
<rect x="528" y="516" width="2" height="2" fill="#ffff00"/>
<rect x="118" y="518" width="2" height="12" fill="#80ffff"/>
<rect x="496" y="518" width="14" height="6" fill="#80ffff"/>
<rect x="496" y="534" width="14" height="6" fill="#80ffff"/>
<rect x="520" y="518" width="2" height="2" fill="#ff0080"/>
<rect x="528" y="518" width="4" height="2" fill="#ff8000"/>
<rect x="106" y="520" width="4" height="8" fill="#80ffff"/>
<rect x="520" y="520" width="2" height="2" fill="#ff8000"/>
<rect x="522" y="520" width="2" height="2" fill="#00c800"/>
<rect x="524" y="520" width="6" height="2" fill="#0000ff"/>
<rect x="530" y="520" width="2" height="2" fill="#80ff40"/>
<rect x="516" y="522" width="2" height="2" fill="#ff0000"/>
<rect x="528" y="522" width="4" height="2" fill="#0000ff"/>
<rect x="494" y="524" width="16" height="10" fill="#80ffff"/>
<rect x="518" y="524" width="2" height="2" fill="#80ff40"/>
<rect x="522" y="524" width="6" height="2" fill="#0000ff"/>
<rect x="518" y="526" width="2" height="2" fill="#00c800"/>
<rect x="524" y="526" width="4" height="8" fill="#00ffff"/>
<rect x="524" y="542" width="4" height="8" fill="#00ffff"/>
<rect x="530" y="526" width="6" height="16" fill="#80ffff"/>
<rect x="536" y="526" width="8" height="12" fill="#00ffff"/>
<rect x="544" y="526" width="4" height="8" fill="#80ffff"/>
<rect x="100" y="528" width="4" height="4" fill="#80ffff"/>
<rect x="106" y="528" width="6" height="6" fill="#80ffff"/>
<rect x="518" y="528" width="6" height="2" fill="#0000ff"/>
<rect x="118" y="530" width="6" height="2" fill="#80ffff"/>
<rect x="522" y="530" width="2" height="4" fill="#0080ff"/>
<rect x="522" y="542" width="2" height="8" fill="#0080ff"/>
<rect x="522" y="558" width="2" height="2" fill="#0080ff"/>
<rect x="102" y="532" width="2" height="2" fill="#80ffff"/>
<rect x="102" y="538" width="2" height="2" fill="#80ffff"/>
<rect x="118" y="532" width="8" height="8" fill="#80ffff"/>
<rect x="102" y="534" width="4" height="4" fill="#80ffff"/>
<rect x="108" y="534" width="6" height="4" fill="#80ffff"/>
<rect x="522" y="534" width="6" height="8" fill="#00ffff"/>
<rect x="522" y="550" width="6" height="6" fill="#00ffff"/>
<rect x="544" y="534" width="6" height="4" fill="#80ffff"/>
<rect x="110" y="538" width="6" height="2" fill="#80ffff"/>
<rect x="542" y="538" width="8" height="10" fill="#80ffff"/>
<rect x="110" y="540" width="2" height="4" fill="#80ffff"/>
<rect x="114" y="540" width="2" height="2" fill="#80ffff"/>
<rect x="120" y="540" width="6" height="2" fill="#80ffff"/>
<rect x="500" y="540" width="10" height="6" fill="#80ffff"/>
<rect x="120" y="542" width="8" height="2" fill="#80ffff"/>
<rect x="528" y="542" width="8" height="8" fill="#80ffff"/>
<rect x="528" y="552" width="8" height="2" fill="#80ffff"/>
<rect x="536" y="542" width="2" height="8" fill="#0080ff"/>
<rect x="120" y="544" width="10" height="4" fill="#80ffff"/>
<rect x="504" y="546" width="6" height="2" fill="#80ffff"/>
<rect x="120" y="548" width="12" height="2" fill="#80ffff"/>
<rect x="378" y="548" width="2" height="8" fill="#80ffff"/>
<rect x="516" y="548" width="6" height="2" fill="#0000ff"/>
<rect x="516" y="554" width="6" height="2" fill="#0000ff"/>
<rect x="540" y="548" width="12" height="4" fill="#80ffff"/>
<rect x="120" y="550" width="14" height="2" fill="#80ffff"/>
<rect x="528" y="550" width="10" height="2" fill="#80ffff"/>
<rect x="528" y="554" width="10" height="2" fill="#80ffff"/>
<rect x="122" y="552" width="12" height="2" fill="#80ffff"/>
<rect x="512" y="552" width="2" height="4" fill="#00ffff"/>
<rect x="536" y="552" width="2" height="2" fill="#0000ff"/>
<rect x="538" y="552" width="14" height="2" fill="#80ffff"/>
<rect x="122" y="554" width="14" height="4" fill="#80ffff"/>
<rect x="500" y="554" width="12" height="2" fill="#80ffff"/>
<rect x="540" y="554" width="20" height="2" fill="#80ffff"/>
<rect x="508" y="556" width="8" height="2" fill="#80ffff"/>
<rect x="522" y="556" width="4" height="2" fill="#00ffff"/>
<rect x="526" y="556" width="34" height="2" fill="#80ffff"/>
<rect x="124" y="558" width="12" height="4" fill="#80ffff"/>
<rect x="510" y="558" width="8" height="4" fill="#80ffff"/>
<rect x="520" y="558" width="2" height="2" fill="#80ffff"/>
<rect x="524" y="558" width="36" height="2" fill="#80ffff"/>
<rect x="520" y="560" width="40" height="2" fill="#80ffff"/>
<rect x="34" y="599" width="2" height="2" fill="#00ffff"/>
<rect x="34" y="603" width="2" height="2" fill="#00ffff"/>
<rect x="42" y="599" width="4" height="2" fill="#00ffff"/>
<rect x="52" y="599" width="2" height="2" fill="#00ffff"/>
<rect x="52" y="603" width="2" height="2" fill="#00ffff"/>
<rect x="60" y="599" width="2" height="2" fill="#00ffff"/>
<rect x="60" y="603" width="2" height="2" fill="#00ffff"/>
<rect x="86" y="599" width="2" height="2" fill="#00ffff"/>
<rect x="86" y="603" width="2" height="2" fill="#00ffff"/>
<rect x="94" y="599" width="2" height="2" fill="#00ffff"/>
<rect x="94" y="603" width="2" height="2" fill="#00ffff"/>
<rect x="98" y="599" width="2" height="2" fill="#00ffff"/>
<rect x="98" y="603" width="2" height="2" fill="#00ffff"/>
<rect x="106" y="599" width="2" height="2" fill="#00ffff"/>
<rect x="106" y="603" width="2" height="2" fill="#00ffff"/>
<rect x="120" y="599" width="2" height="2" fill="#00ffff"/>
<rect x="120" y="603" width="2" height="2" fill="#00ffff"/>
<rect x="130" y="599" width="6" height="2" fill="#00ffff"/>
<rect x="130" y="605" width="6" height="2" fill="#00ffff"/>
<rect x="150" y="599" width="2" height="2" fill="#00ffff"/>
<rect x="150" y="605" width="2" height="2" fill="#00ffff"/>
<rect x="156" y="599" width="8" height="2" fill="#00ffff"/>
<rect x="156" y="605" width="8" height="2" fill="#00ffff"/>
<rect x="178" y="599" width="4" height="2" fill="#00ffff"/>
<rect x="178" y="605" width="4" height="2" fill="#00ffff"/>
<rect x="186" y="599" width="2" height="2" fill="#00ffff"/>
<rect x="186" y="603" width="2" height="2" fill="#00ffff"/>
<rect x="192" y="599" width="2" height="2" fill="#00ffff"/>
<rect x="192" y="603" width="2" height="2" fill="#00ffff"/>
<rect x="200" y="599" width="2" height="2" fill="#00ffff"/>
<rect x="200" y="603" width="2" height="2" fill="#00ffff"/>
<rect x="204" y="599" width="4" height="2" fill="#00ffff"/>
<rect x="204" y="605" width="4" height="2" fill="#00ffff"/>
<rect x="222" y="599" width="2" height="2" fill="#00ffff"/>
<rect x="222" y="603" width="2" height="2" fill="#00ffff"/>
<rect x="226" y="599" width="2" height="2" fill="#00ffff"/>
<rect x="226" y="603" width="2" height="2" fill="#00ffff"/>
<rect x="236" y="599" width="2" height="2" fill="#00ffff"/>
<rect x="236" y="603" width="2" height="2" fill="#00ffff"/>
<rect x="250" y="599" width="2" height="2" fill="#00ffff"/>
<rect x="250" y="603" width="2" height="2" fill="#00ffff"/>
<rect x="260" y="599" width="2" height="2" fill="#00ffff"/>
<rect x="260" y="603" width="2" height="2" fill="#00ffff"/>
<rect x="266" y="599" width="4" height="2" fill="#00ffff"/>
<rect x="266" y="605" width="4" height="2" fill="#00ffff"/>
<rect x="280" y="599" width="12" height="2" fill="#00ffff"/>
<rect x="280" y="605" width="12" height="2" fill="#00ffff"/>
<rect x="296" y="599" width="4" height="2" fill="#00ffff"/>
<rect x="296" y="605" width="4" height="2" fill="#00ffff"/>
<rect x="304" y="599" width="2" height="2" fill="#00ffff"/>
<rect x="304" y="603" width="2" height="2" fill="#00ffff"/>
<rect x="308" y="599" width="6" height="2" fill="#00ffff"/>
<rect x="308" y="605" width="6" height="2" fill="#00ffff"/>
<rect x="320" y="599" width="2" height="2" fill="#00ffff"/>
<rect x="320" y="603" width="2" height="2" fill="#00ffff"/>
<rect x="324" y="599" width="2" height="2" fill="#00ffff"/>
<rect x="324" y="603" width="2" height="2" fill="#00ffff"/>
<rect x="336" y="599" width="2" height="2" fill="#00ffff"/>
<rect x="336" y="603" width="2" height="2" fill="#00ffff"/>
<rect x="340" y="599" width="6" height="2" fill="#00ffff"/>
<rect x="340" y="605" width="6" height="2" fill="#00ffff"/>
<rect x="350" y="599" width="2" height="2" fill="#00ffff"/>
<rect x="350" y="603" width="2" height="2" fill="#00ffff"/>
<rect x="356" y="599" width="2" height="2" fill="#00ffff"/>
<rect x="356" y="603" width="2" height="2" fill="#00ffff"/>
<rect x="366" y="599" width="8" height="2" fill="#00ffff"/>
<rect x="366" y="605" width="8" height="2" fill="#00ffff"/>
<rect x="388" y="599" width="2" height="2" fill="#00ffff"/>
<rect x="388" y="603" width="2" height="2" fill="#00ffff"/>
<rect x="394" y="599" width="2" height="2" fill="#00ffff"/>
<rect x="394" y="603" width="2" height="2" fill="#00ffff"/>
<rect x="410" y="599" width="2" height="2" fill="#00ffff"/>
<rect x="410" y="603" width="2" height="2" fill="#00ffff"/>
<rect x="426" y="599" width="4" height="2" fill="#00ffff"/>
<rect x="426" y="605" width="4" height="2" fill="#00ffff"/>
<rect x="432" y="599" width="4" height="2" fill="#00ffff"/>
<rect x="432" y="605" width="4" height="2" fill="#00ffff"/>
<rect x="458" y="599" width="2" height="2" fill="#00ffff"/>
<rect x="458" y="603" width="2" height="2" fill="#00ffff"/>
<rect x="470" y="599" width="4" height="2" fill="#00ffff"/>
<rect x="470" y="605" width="4" height="2" fill="#00ffff"/>
<rect x="498" y="599" width="2" height="2" fill="#00ffff"/>
<rect x="498" y="603" width="2" height="2" fill="#00ffff"/>
<rect x="498" y="713" width="2" height="8" fill="#00ffff"/>
<rect x="498" y="727" width="2" height="6" fill="#00ffff"/>
<rect x="498" y="741" width="2" height="10" fill="#00ffff"/>
<rect x="504" y="599" width="2" height="2" fill="#00ffff"/>
<rect x="504" y="603" width="2" height="2" fill="#00ffff"/>
<rect x="504" y="761" width="2" height="2" fill="#00ffff"/>
<rect x="508" y="599" width="4" height="2" fill="#00ffff"/>
<rect x="508" y="603" width="4" height="2" fill="#00ffff"/>
<rect x="508" y="693" width="4" height="2" fill="#00ffff"/>
<rect x="514" y="599" width="2" height="2" fill="#00ffff"/>
<rect x="514" y="603" width="2" height="2" fill="#00ffff"/>
<rect x="514" y="705" width="2" height="8" fill="#00ffff"/>
<rect x="514" y="737" width="2" height="6" fill="#00ffff"/>
<rect x="514" y="839" width="2" height="2" fill="#00ffff"/>
<rect x="524" y="599" width="2" height="2" fill="#00ffff"/>
<rect x="524" y="603" width="2" height="2" fill="#00ffff"/>
<rect x="524" y="719" width="2" height="2" fill="#00ffff"/>
<rect x="524" y="725" width="2" height="4" fill="#00ffff"/>
<rect x="524" y="807" width="2" height="10" fill="#00ffff"/>
<rect x="524" y="821" width="2" height="2" fill="#00ffff"/>
<rect x="528" y="599" width="2" height="2" fill="#00ffff"/>
<rect x="528" y="603" width="2" height="2" fill="#00ffff"/>
<rect x="528" y="719" width="2" height="2" fill="#00ffff"/>
<rect x="528" y="725" width="2" height="2" fill="#00ffff"/>
<rect x="540" y="599" width="4" height="2" fill="#00ffff"/>
<rect x="540" y="605" width="4" height="2" fill="#00ffff"/>
<rect x="556" y="599" width="4" height="2" fill="#00ffff"/>
<rect x="556" y="605" width="4" height="2" fill="#00ffff"/>
<rect x="564" y="599" width="4" height="2" fill="#00ffff"/>
<rect x="564" y="605" width="4" height="2" fill="#00ffff"/>
<rect x="572" y="599" width="4" height="2" fill="#00ffff"/>
<rect x="572" y="605" width="4" height="2" fill="#00ffff"/>
<rect x="578" y="599" width="8" height="2" fill="#00ffff"/>
<rect x="578" y="605" width="8" height="2" fill="#00ffff"/>
<rect x="592" y="599" width="2" height="2" fill="#00ffff"/>
<rect x="592" y="603" width="2" height="2" fill="#00ffff"/>
<rect x="596" y="599" width="4" height="2" fill="#00ffff"/>
<rect x="596" y="605" width="4" height="2" fill="#00ffff"/>
<rect x="604" y="599" width="2" height="2" fill="#00ffff"/>
<rect x="604" y="603" width="2" height="2" fill="#00ffff"/>
<rect x="608" y="599" width="2" height="2" fill="#00ffff"/>
<rect x="608" y="603" width="2" height="2" fill="#00ffff"/>
<rect x="614" y="599" width="2" height="2" fill="#00ffff"/>
<rect x="614" y="603" width="2" height="2" fill="#00ffff"/>
<rect x="624" y="599" width="2" height="2" fill="#00ffff"/>
<rect x="624" y="603" width="2" height="2" fill="#00ffff"/>
<rect x="634" y="599" width="10" height="2" fill="#00ffff"/>
<rect x="634" y="605" width="10" height="2" fill="#00ffff"/>
<rect x="652" y="599" width="4" height="2" fill="#00ffff"/>
<rect x="652" y="605" width="4" height="2" fill="#00ffff"/>
<rect x="664" y="599" width="2" height="2" fill="#00ffff"/>
<rect x="664" y="603" width="2" height="2" fill="#00ffff"/>
<rect x="678" y="599" width="2" height="2" fill="#00ffff"/>
<rect x="678" y="603" width="2" height="2" fill="#00ffff"/>
<rect x="682" y="599" width="4" height="2" fill="#00ffff"/>
<rect x="682" y="605" width="4" height="2" fill="#00ffff"/>
<rect x="692" y="599" width="2" height="2" fill="#00ffff"/>
<rect x="692" y="603" width="2" height="2" fill="#00ffff"/>
<rect x="696" y="599" width="2" height="2" fill="#00ffff"/>
<rect x="696" y="603" width="2" height="2" fill="#00ffff"/>
<rect x="706" y="599" width="2" height="2" fill="#00ffff"/>
<rect x="706" y="603" width="2" height="2" fill="#00ffff"/>
<rect x="722" y="599" width="2" height="2" fill="#00ffff"/>
<rect x="722" y="603" width="2" height="2" fill="#00ffff"/>
<rect x="734" y="599" width="6" height="2" fill="#00ffff"/>
<rect x="734" y="605" width="6" height="2" fill="#00ffff"/>
<rect x="746" y="599" width="4" height="2" fill="#00ffff"/>
<rect x="746" y="605" width="4" height="2" fill="#00ffff"/>
<rect x="34" y="601" width="2" height="2" fill="#00c000"/>
<rect x="36" y="601" width="2" height="2" fill="#00ffff"/>
<rect x="36" y="605" width="2" height="2" fill="#00ffff"/>
<rect x="40" y="601" width="2" height="2" fill="#00ffff"/>
<rect x="42" y="601" width="4" height="2" fill="#00c000"/>
<rect x="52" y="601" width="2" height="2" fill="#00c000"/>
<rect x="60" y="601" width="2" height="2" fill="#00c000"/>
<rect x="86" y="601" width="2" height="2" fill="#00c000"/>
<rect x="94" y="601" width="2" height="2" fill="#00c000"/>
<rect x="98" y="601" width="2" height="2" fill="#00c000"/>
<rect x="106" y="601" width="2" height="2" fill="#00c000"/>
<rect x="112" y="601" width="2" height="2" fill="#00ffff"/>
<rect x="112" y="605" width="2" height="2" fill="#00ffff"/>
<rect x="120" y="601" width="2" height="2" fill="#00c000"/>
<rect x="120" y="807" width="2" height="14" fill="#00c000"/>
<rect x="130" y="601" width="6" height="4" fill="#00c000"/>
<rect x="150" y="601" width="2" height="4" fill="#00c000"/>
<rect x="156" y="601" width="8" height="4" fill="#00c000"/>
<rect x="178" y="601" width="4" height="4" fill="#00c000"/>
<rect x="186" y="601" width="2" height="2" fill="#00c000"/>
<rect x="192" y="601" width="2" height="2" fill="#00c000"/>
<rect x="200" y="601" width="2" height="2" fill="#00c000"/>
<rect x="204" y="601" width="4" height="4" fill="#00c000"/>
<rect x="222" y="601" width="2" height="2" fill="#00c000"/>
<rect x="226" y="601" width="2" height="2" fill="#00c000"/>
<rect x="236" y="601" width="2" height="2" fill="#00c000"/>
<rect x="246" y="601" width="2" height="4" fill="#00ffff"/>
<rect x="250" y="601" width="2" height="2" fill="#00c000"/>
<rect x="260" y="601" width="2" height="2" fill="#00c000"/>
<rect x="266" y="601" width="4" height="4" fill="#00c000"/>
<rect x="280" y="601" width="12" height="4" fill="#00c000"/>
<rect x="296" y="601" width="4" height="4" fill="#00c000"/>
<rect x="304" y="601" width="2" height="2" fill="#00c000"/>
<rect x="308" y="601" width="6" height="4" fill="#00c000"/>
<rect x="320" y="601" width="2" height="2" fill="#00c000"/>
<rect x="324" y="601" width="2" height="2" fill="#00c000"/>
<rect x="336" y="601" width="2" height="2" fill="#00c000"/>
<rect x="340" y="601" width="6" height="4" fill="#00c000"/>
<rect x="350" y="601" width="2" height="2" fill="#00c000"/>
<rect x="356" y="601" width="2" height="2" fill="#00c000"/>
<rect x="366" y="601" width="8" height="4" fill="#00c000"/>
<rect x="388" y="601" width="2" height="2" fill="#00c000"/>
<rect x="394" y="601" width="2" height="2" fill="#00c000"/>
<rect x="402" y="601" width="2" height="4" fill="#00ffff"/>
<rect x="406" y="601" width="2" height="4" fill="#00ffff"/>
<rect x="410" y="601" width="2" height="2" fill="#00c000"/>
<rect x="414" y="601" width="2" height="4" fill="#00ffff"/>
<rect x="426" y="601" width="4" height="4" fill="#00c000"/>
<rect x="432" y="601" width="4" height="4" fill="#00c000"/>
<rect x="458" y="601" width="2" height="2" fill="#00c000"/>
<rect x="470" y="601" width="4" height="4" fill="#00c000"/>
<rect x="488" y="601" width="2" height="4" fill="#00ffff"/>
<rect x="488" y="693" width="2" height="2" fill="#00ffff"/>
<rect x="488" y="697" width="2" height="2" fill="#00ffff"/>
<rect x="498" y="601" width="2" height="2" fill="#00c000"/>
<rect x="498" y="733" width="2" height="4" fill="#00c000"/>
<rect x="504" y="601" width="2" height="2" fill="#00c000"/>
<rect x="508" y="601" width="4" height="2" fill="#00c000"/>
<rect x="514" y="601" width="2" height="2" fill="#00c000"/>
<rect x="514" y="745" width="2" height="6" fill="#00c000"/>
<rect x="514" y="755" width="2" height="2" fill="#00c000"/>
<rect x="514" y="767" width="2" height="2" fill="#00c000"/>
<rect x="514" y="823" width="2" height="10" fill="#00c000"/>
<rect x="524" y="601" width="2" height="2" fill="#00c000"/>
<rect x="524" y="731" width="2" height="4" fill="#00c000"/>
<rect x="528" y="601" width="2" height="2" fill="#00c000"/>
<rect x="528" y="733" width="2" height="2" fill="#00c000"/>
<rect x="540" y="601" width="4" height="4" fill="#00c000"/>
<rect x="556" y="601" width="4" height="4" fill="#00c000"/>
<rect x="564" y="601" width="4" height="4" fill="#00c000"/>
<rect x="572" y="601" width="4" height="4" fill="#00c000"/>
<rect x="578" y="601" width="8" height="4" fill="#00c000"/>
<rect x="592" y="601" width="2" height="2" fill="#00c000"/>
<rect x="596" y="601" width="4" height="4" fill="#00c000"/>
<rect x="604" y="601" width="2" height="2" fill="#00c000"/>
<rect x="608" y="601" width="2" height="2" fill="#00c000"/>
<rect x="614" y="601" width="2" height="2" fill="#00c000"/>
<rect x="618" y="601" width="2" height="4" fill="#00ffff"/>
<rect x="624" y="601" width="2" height="2" fill="#00c000"/>
<rect x="634" y="601" width="10" height="4" fill="#00c000"/>
<rect x="652" y="601" width="4" height="4" fill="#00c000"/>
<rect x="658" y="601" width="2" height="4" fill="#00ffff"/>
<rect x="664" y="601" width="2" height="2" fill="#00c000"/>
<rect x="678" y="601" width="2" height="2" fill="#00c000"/>
<rect x="682" y="601" width="4" height="4" fill="#00c000"/>
<rect x="692" y="601" width="2" height="2" fill="#00c000"/>
<rect x="696" y="601" width="2" height="2" fill="#00c000"/>
<rect x="706" y="601" width="2" height="2" fill="#00c000"/>
<rect x="712" y="601" width="2" height="2" fill="#00ffff"/>
<rect x="712" y="605" width="2" height="2" fill="#00ffff"/>
<rect x="722" y="601" width="2" height="2" fill="#00c000"/>
<rect x="734" y="601" width="6" height="4" fill="#00c000"/>
<rect x="746" y="601" width="4" height="4" fill="#00c000"/>
<rect x="36" y="603" width="2" height="2" fill="#00c000"/>
<rect x="40" y="603" width="6" height="2" fill="#00c000"/>
<rect x="112" y="603" width="2" height="2" fill="#00c000"/>
<rect x="712" y="603" width="2" height="2" fill="#00c000"/>
<rect x="40" y="605" width="6" height="2" fill="#00ffff"/>
<rect x="640" y="607" width="4" height="2" fill="#00ffff"/>
<rect x="464" y="667" width="2" height="4" fill="#00c0ff"/>
<rect x="460" y="669" width="2" height="6" fill="#00c0ff"/>
<rect x="506" y="671" width="2" height="6" fill="#00c0ff"/>
<rect x="506" y="679" width="2" height="2" fill="#00c0ff"/>
<rect x="510" y="671" width="6" height="4" fill="#00c0ff"/>
<rect x="490" y="675" width="2" height="2" fill="#0000c8"/>
<rect x="510" y="675" width="2" height="2" fill="#00ffff"/>
<rect x="510" y="697" width="2" height="2" fill="#00ffff"/>
<rect x="510" y="765" width="2" height="2" fill="#00ffff"/>
<rect x="512" y="675" width="6" height="2" fill="#00c0ff"/>
<rect x="542" y="675" width="2" height="2" fill="#0000c8"/>
<rect x="542" y="707" width="2" height="2" fill="#0000c8"/>
<rect x="542" y="721" width="2" height="10" fill="#0000c8"/>
<rect x="542" y="749" width="2" height="2" fill="#0000c8"/>
<rect x="484" y="677" width="2" height="4" fill="#00c0ff"/>
<rect x="490" y="677" width="2" height="2" fill="#00c0ff"/>
<rect x="490" y="697" width="2" height="2" fill="#00c0ff"/>
<rect x="490" y="703" width="2" height="2" fill="#00c0ff"/>
<rect x="494" y="677" width="2" height="2" fill="#0000c8"/>
<rect x="494" y="743" width="2" height="4" fill="#0000c8"/>
<rect x="494" y="749" width="2" height="6" fill="#0000c8"/>
<rect x="496" y="677" width="2" height="2" fill="#00c0ff"/>
<rect x="496" y="729" width="2" height="2" fill="#00c0ff"/>
<rect x="496" y="733" width="2" height="2" fill="#00c0ff"/>
<rect x="506" y="677" width="2" height="2" fill="#00ffff"/>
<rect x="506" y="683" width="2" height="2" fill="#00ffff"/>
<rect x="508" y="677" width="2" height="2" fill="#00c0ff"/>
<rect x="508" y="689" width="2" height="2" fill="#00c0ff"/>
<rect x="508" y="829" width="2" height="4" fill="#00c0ff"/>
<rect x="510" y="677" width="8" height="2" fill="#00ffff"/>
<rect x="542" y="677" width="2" height="2" fill="#00c0ff"/>
<rect x="542" y="711" width="2" height="6" fill="#00c0ff"/>
<rect x="542" y="731" width="2" height="6" fill="#00c0ff"/>
<rect x="474" y="679" width="2" height="6" fill="#00c0ff"/>
<rect x="486" y="679" width="4" height="2" fill="#0000c8"/>
<rect x="490" y="679" width="10" height="2" fill="#00c0ff"/>
<rect x="500" y="679" width="2" height="4" fill="#0000c8"/>
<rect x="500" y="815" width="2" height="6" fill="#0000c8"/>
<rect x="504" y="679" width="2" height="2" fill="#0000c8"/>
<rect x="504" y="773" width="2" height="2" fill="#0000c8"/>
<rect x="504" y="825" width="2" height="4" fill="#0000c8"/>
<rect x="508" y="679" width="6" height="2" fill="#00ffff"/>
<rect x="514" y="679" width="4" height="2" fill="#00c000"/>
<rect x="514" y="751" width="4" height="4" fill="#00c000"/>
<rect x="540" y="679" width="4" height="2" fill="#0000c8"/>
<rect x="484" y="681" width="6" height="4" fill="#00c0ff"/>
<rect x="484" y="715" width="6" height="2" fill="#00c0ff"/>
<rect x="490" y="681" width="2" height="2" fill="#00ffff"/>
<rect x="490" y="721" width="2" height="2" fill="#00ffff"/>
<rect x="490" y="729" width="2" height="2" fill="#00ffff"/>
<rect x="492" y="681" width="8" height="2" fill="#00c0ff"/>
<rect x="492" y="721" width="8" height="6" fill="#00c0ff"/>
<rect x="492" y="737" width="8" height="2" fill="#00c0ff"/>
<rect x="502" y="681" width="4" height="2" fill="#00c0ff"/>
<rect x="506" y="681" width="6" height="2" fill="#00ffff"/>
<rect x="512" y="681" width="6" height="6" fill="#00c000"/>
<rect x="512" y="689" width="6" height="10" fill="#00c000"/>
<rect x="540" y="681" width="2" height="2" fill="#00c0ff"/>
<rect x="540" y="697" width="2" height="2" fill="#00c0ff"/>
<rect x="540" y="701" width="2" height="8" fill="#00c0ff"/>
<rect x="540" y="717" width="2" height="2" fill="#00c0ff"/>
<rect x="540" y="721" width="2" height="2" fill="#00c0ff"/>
<rect x="490" y="683" width="14" height="2" fill="#00ffff"/>
<rect x="504" y="683" width="2" height="2" fill="#00c0ff"/>
<rect x="508" y="683" width="4" height="2" fill="#00c0ff"/>
<rect x="508" y="787" width="4" height="6" fill="#00c0ff"/>
<rect x="518" y="683" width="2" height="8" fill="#00c0ff"/>
<rect x="518" y="703" width="2" height="2" fill="#00c0ff"/>
<rect x="534" y="683" width="2" height="4" fill="#00c0ff"/>
<rect x="534" y="771" width="2" height="2" fill="#00c0ff"/>
<rect x="534" y="801" width="2" height="6" fill="#00c0ff"/>
<rect x="538" y="683" width="4" height="4" fill="#00c0ff"/>
<rect x="538" y="693" width="4" height="4" fill="#00c0ff"/>
<rect x="538" y="699" width="4" height="2" fill="#00c0ff"/>
<rect x="476" y="685" width="2" height="8" fill="#00c0ff"/>
<rect x="486" y="685" width="6" height="6" fill="#00ffff"/>
<rect x="486" y="723" width="6" height="2" fill="#00ffff"/>
<rect x="486" y="727" width="6" height="2" fill="#00ffff"/>
<rect x="492" y="685" width="2" height="2" fill="#00c000"/>
<rect x="494" y="685" width="8" height="2" fill="#00ffff"/>
<rect x="502" y="685" width="2" height="2" fill="#00c0ff"/>
<rect x="502" y="757" width="2" height="2" fill="#00c0ff"/>
<rect x="506" y="685" width="4" height="2" fill="#00c0ff"/>
<rect x="506" y="761" width="4" height="2" fill="#00c0ff"/>
<rect x="506" y="801" width="4" height="2" fill="#00c0ff"/>
<rect x="506" y="825" width="4" height="4" fill="#00c0ff"/>
<rect x="532" y="685" width="2" height="2" fill="#0000c8"/>
<rect x="532" y="783" width="2" height="2" fill="#0000c8"/>
<rect x="474" y="687" width="2" height="2" fill="#0000c8"/>
<rect x="480" y="687" width="2" height="2" fill="#00c0ff"/>
<rect x="480" y="691" width="2" height="6" fill="#00c0ff"/>
<rect x="492" y="687" width="4" height="4" fill="#00c000"/>
<rect x="496" y="687" width="8" height="2" fill="#00ffff"/>
<rect x="504" y="687" width="6" height="2" fill="#00c0ff"/>
<rect x="504" y="821" width="6" height="4" fill="#00c0ff"/>
<rect x="512" y="687" width="4" height="2" fill="#00c000"/>
<rect x="512" y="765" width="4" height="2" fill="#00c000"/>
<rect x="512" y="783" width="4" height="4" fill="#00c000"/>
<rect x="516" y="687" width="2" height="2" fill="#ffff00"/>
<rect x="516" y="755" width="2" height="2" fill="#ffff00"/>
<rect x="526" y="687" width="2" height="4" fill="#00c0ff"/>
<rect x="526" y="697" width="2" height="2" fill="#00c0ff"/>
<rect x="526" y="701" width="2" height="4" fill="#00c0ff"/>
<rect x="532" y="687" width="10" height="4" fill="#00c0ff"/>
<rect x="472" y="689" width="2" height="6" fill="#00c0ff"/>
<rect x="496" y="689" width="12" height="2" fill="#00ffff"/>
<rect x="488" y="691" width="2" height="2" fill="#00c0ff"/>
<rect x="488" y="721" width="2" height="2" fill="#00c0ff"/>
<rect x="488" y="729" width="2" height="2" fill="#00c0ff"/>
<rect x="490" y="691" width="6" height="2" fill="#00c000"/>
<rect x="496" y="691" width="10" height="2" fill="#00ffff"/>
<rect x="506" y="691" width="2" height="2" fill="#00c000"/>
<rect x="506" y="715" width="2" height="4" fill="#00c000"/>
<rect x="508" y="691" width="2" height="2" fill="#00ffff"/>
<rect x="508" y="695" width="2" height="2" fill="#00ffff"/>
<rect x="518" y="691" width="2" height="8" fill="#00ffff"/>
<rect x="518" y="741" width="2" height="2" fill="#00ffff"/>
<rect x="518" y="751" width="2" height="4" fill="#00ffff"/>
<rect x="526" y="691" width="16" height="2" fill="#00c0ff"/>
<rect x="490" y="693" width="8" height="2" fill="#00c000"/>
<rect x="498" y="693" width="4" height="4" fill="#00ffff"/>
<rect x="502" y="693" width="6" height="4" fill="#00c000"/>
<rect x="526" y="693" width="4" height="2" fill="#00ffff"/>
<rect x="526" y="707" width="4" height="2" fill="#00ffff"/>
<rect x="526" y="711" width="4" height="4" fill="#00ffff"/>
<rect x="526" y="731" width="4" height="2" fill="#00ffff"/>
<rect x="530" y="693" width="4" height="2" fill="#00c0ff"/>
<rect x="530" y="731" width="4" height="6" fill="#00c0ff"/>
<rect x="536" y="693" width="2" height="2" fill="#0000c8"/>
<rect x="536" y="737" width="2" height="2" fill="#0000c8"/>
<rect x="536" y="775" width="2" height="2" fill="#0000c8"/>
<rect x="488" y="695" width="4" height="2" fill="#00ffff"/>
<rect x="488" y="725" width="4" height="2" fill="#00ffff"/>
<rect x="492" y="695" width="6" height="2" fill="#00c000"/>
<rect x="510" y="695" width="2" height="2" fill="#00c0ff"/>
<rect x="510" y="783" width="2" height="4" fill="#00c0ff"/>
<rect x="526" y="695" width="6" height="2" fill="#00ffff"/>
<rect x="526" y="699" width="6" height="2" fill="#00ffff"/>
<rect x="526" y="705" width="6" height="2" fill="#00ffff"/>
<rect x="526" y="709" width="6" height="2" fill="#00ffff"/>
<rect x="532" y="695" width="2" height="6" fill="#00c0ff"/>
<rect x="492" y="697" width="2" height="2" fill="#00ffff"/>
<rect x="494" y="697" width="6" height="2" fill="#00c000"/>
<rect x="500" y="697" width="2" height="2" fill="#00ffff"/>
<rect x="500" y="721" width="2" height="6" fill="#00ffff"/>
<rect x="500" y="757" width="2" height="2" fill="#00ffff"/>
<rect x="502" y="697" width="8" height="2" fill="#00c000"/>
<rect x="528" y="697" width="4" height="2" fill="#00ffff"/>
<rect x="528" y="701" width="4" height="4" fill="#00ffff"/>
<rect x="538" y="697" width="2" height="2" fill="#0000c8"/>
<rect x="538" y="759" width="2" height="4" fill="#0000c8"/>
<rect x="490" y="699" width="6" height="4" fill="#00ffff"/>
<rect x="496" y="699" width="6" height="4" fill="#00c000"/>
<rect x="502" y="699" width="2" height="4" fill="#00ffff"/>
<rect x="504" y="699" width="12" height="4" fill="#00c000"/>
<rect x="516" y="699" width="4" height="4" fill="#00ffff"/>
<rect x="516" y="745" width="4" height="6" fill="#00ffff"/>
<rect x="482" y="701" width="2" height="4" fill="#00c0ff"/>
<rect x="492" y="703" width="6" height="6" fill="#00ffff"/>
<rect x="498" y="703" width="18" height="2" fill="#00c000"/>
<rect x="516" y="703" width="2" height="2" fill="#00ffff"/>
<rect x="482" y="705" width="4" height="4" fill="#00c0ff"/>
<rect x="498" y="705" width="16" height="4" fill="#00c000"/>
<rect x="516" y="705" width="4" height="4" fill="#00c0ff"/>
<rect x="530" y="707" width="2" height="2" fill="#00c0ff"/>
<rect x="530" y="727" width="2" height="2" fill="#00c0ff"/>
<rect x="482" y="709" width="6" height="4" fill="#00c0ff"/>
<rect x="492" y="709" width="2" height="2" fill="#00c0ff"/>
<rect x="492" y="729" width="2" height="2" fill="#00c0ff"/>
<rect x="492" y="739" width="2" height="2" fill="#00c0ff"/>
<rect x="494" y="709" width="6" height="2" fill="#00ffff"/>
<rect x="500" y="709" width="10" height="2" fill="#00c000"/>
<rect x="500" y="719" width="10" height="2" fill="#00c000"/>
<rect x="510" y="709" width="2" height="4" fill="#ffff00"/>
<rect x="510" y="719" width="2" height="2" fill="#ffff00"/>
<rect x="512" y="709" width="2" height="36" fill="#00c000"/>
<rect x="512" y="787" width="2" height="12" fill="#00c000"/>
<rect x="524" y="709" width="2" height="2" fill="#0000c8"/>
<rect x="540" y="709" width="4" height="2" fill="#00c0ff"/>
<rect x="540" y="791" width="4" height="4" fill="#00c0ff"/>
<rect x="540" y="825" width="4" height="2" fill="#00c0ff"/>
<rect x="492" y="711" width="6" height="2" fill="#00c0ff"/>
<rect x="492" y="727" width="6" height="2" fill="#00c0ff"/>
<rect x="498" y="711" width="12" height="2" fill="#00c000"/>
<rect x="524" y="711" width="2" height="4" fill="#00c0ff"/>
<rect x="540" y="711" width="2" height="6" fill="#0000c8"/>
<rect x="540" y="737" width="2" height="2" fill="#0000c8"/>
<rect x="540" y="753" width="2" height="2" fill="#0000c8"/>
<rect x="540" y="783" width="2" height="2" fill="#0000c8"/>
<rect x="482" y="713" width="8" height="2" fill="#00c0ff"/>
<rect x="494" y="713" width="4" height="2" fill="#00c0ff"/>
<rect x="494" y="731" width="4" height="2" fill="#00c0ff"/>
<rect x="500" y="713" width="8" height="2" fill="#00c000"/>
<rect x="508" y="713" width="4" height="6" fill="#ffff00"/>
<rect x="500" y="715" width="4" height="4" fill="#00c000"/>
<rect x="500" y="745" width="4" height="8" fill="#00c000"/>
<rect x="504" y="715" width="2" height="4" fill="#ffff00"/>
<rect x="524" y="715" width="6" height="4" fill="#00ffff"/>
<rect x="524" y="721" width="6" height="4" fill="#00ffff"/>
<rect x="524" y="829" width="6" height="4" fill="#00ffff"/>
<rect x="484" y="717" width="8" height="2" fill="#00c0ff"/>
<rect x="542" y="717" width="4" height="2" fill="#0000c8"/>
<rect x="484" y="719" width="4" height="2" fill="#00ffff"/>
<rect x="488" y="719" width="6" height="2" fill="#00c0ff"/>
<rect x="496" y="719" width="2" height="2" fill="#0000c8"/>
<rect x="496" y="817" width="2" height="4" fill="#0000c8"/>
<rect x="526" y="719" width="2" height="2" fill="#00c000"/>
<rect x="526" y="725" width="2" height="2" fill="#00c000"/>
<rect x="526" y="821" width="2" height="2" fill="#00c000"/>
<rect x="540" y="719" width="6" height="2" fill="#0000c8"/>
<rect x="540" y="785" width="6" height="2" fill="#0000c8"/>
<rect x="540" y="839" width="6" height="2" fill="#0000c8"/>
<rect x="486" y="721" width="2" height="2" fill="#00ffff"/>
<rect x="502" y="721" width="4" height="6" fill="#00c000"/>
<rect x="506" y="721" width="6" height="6" fill="#ffff00"/>
<rect x="522" y="721" width="2" height="4" fill="#0000c8"/>
<rect x="544" y="723" width="2" height="14" fill="#00ffff"/>
<rect x="544" y="789" width="2" height="6" fill="#00ffff"/>
<rect x="546" y="723" width="2" height="2" fill="#0000c8"/>
<rect x="546" y="729" width="2" height="2" fill="#0000c8"/>
<rect x="546" y="789" width="2" height="4" fill="#0000c8"/>
<rect x="546" y="795" width="2" height="4" fill="#0000c8"/>
<rect x="546" y="815" width="2" height="10" fill="#0000c8"/>
<rect x="546" y="827" width="2" height="4" fill="#0000c8"/>
<rect x="486" y="725" width="2" height="2" fill="#0000c8"/>
<rect x="522" y="725" width="2" height="4" fill="#00c0ff"/>
<rect x="530" y="725" width="2" height="2" fill="#0000c8"/>
<rect x="546" y="725" width="2" height="4" fill="#00c0ff"/>
<rect x="546" y="793" width="2" height="2" fill="#00c0ff"/>
<rect x="546" y="799" width="2" height="8" fill="#00c0ff"/>
<rect x="500" y="727" width="2" height="6" fill="#00c000"/>
<rect x="500" y="737" width="2" height="8" fill="#00c000"/>
<rect x="502" y="727" width="10" height="6" fill="#ffff00"/>
<rect x="502" y="737" width="10" height="8" fill="#ffff00"/>
<rect x="514" y="727" width="2" height="2" fill="#0000c8"/>
<rect x="526" y="727" width="4" height="2" fill="#00c000"/>
<rect x="526" y="735" width="4" height="2" fill="#00c000"/>
<rect x="494" y="729" width="2" height="2" fill="#00ffff"/>
<rect x="514" y="729" width="2" height="8" fill="#00c0ff"/>
<rect x="518" y="729" width="2" height="2" fill="#0000c8"/>
<rect x="520" y="729" width="4" height="2" fill="#00c0ff"/>
<rect x="524" y="729" width="4" height="2" fill="#00ffff"/>
<rect x="524" y="823" width="4" height="6" fill="#00ffff"/>
<rect x="524" y="833" width="4" height="2" fill="#00ffff"/>
<rect x="528" y="729" width="4" height="2" fill="#00c0ff"/>
<rect x="488" y="731" width="6" height="2" fill="#00ffff"/>
<rect x="518" y="731" width="6" height="6" fill="#00c0ff"/>
<rect x="534" y="731" width="2" height="2" fill="#0000c8"/>
<rect x="534" y="793" width="2" height="8" fill="#0000c8"/>
<rect x="534" y="839" width="2" height="2" fill="#0000c8"/>
<rect x="488" y="733" width="8" height="2" fill="#00ffff"/>
<rect x="500" y="733" width="12" height="4" fill="#ffff00"/>
<rect x="526" y="733" width="2" height="2" fill="#00ffff"/>
<rect x="534" y="733" width="4" height="4" fill="#0000c8"/>
<rect x="534" y="773" width="4" height="2" fill="#0000c8"/>
<rect x="490" y="735" width="8" height="2" fill="#00ffff"/>
<rect x="524" y="735" width="2" height="2" fill="#ffff00"/>
<rect x="524" y="743" width="2" height="4" fill="#ffff00"/>
<rect x="524" y="783" width="2" height="6" fill="#ffff00"/>
<rect x="516" y="737" width="2" height="4" fill="#ffffff"/>
<rect x="518" y="737" width="4" height="4" fill="#00c0ff"/>
<rect x="522" y="737" width="2" height="6" fill="#00c000"/>
<rect x="522" y="823" width="2" height="12" fill="#00c000"/>
<rect x="524" y="737" width="4" height="4" fill="#ffff00"/>
<rect x="528" y="737" width="4" height="4" fill="#00c000"/>
<rect x="528" y="833" width="4" height="2" fill="#00c000"/>
<rect x="532" y="737" width="2" height="4" fill="#00ffff"/>
<rect x="532" y="775" width="2" height="8" fill="#00ffff"/>
<rect x="532" y="787" width="2" height="4" fill="#00ffff"/>
<rect x="532" y="805" width="2" height="2" fill="#00ffff"/>
<rect x="532" y="819" width="2" height="10" fill="#00ffff"/>
<rect x="534" y="737" width="2" height="4" fill="#ffffff"/>
<rect x="534" y="775" width="2" height="2" fill="#ffffff"/>
<rect x="534" y="789" width="2" height="4" fill="#ffffff"/>
<rect x="538" y="737" width="2" height="2" fill="#ffffff"/>
<rect x="538" y="769" width="2" height="2" fill="#ffffff"/>
<rect x="538" y="777" width="2" height="2" fill="#ffffff"/>
<rect x="542" y="737" width="4" height="4" fill="#00c0ff"/>
<rect x="496" y="739" width="4" height="2" fill="#00c0ff"/>
<rect x="536" y="739" width="2" height="2" fill="#00c0ff"/>
<rect x="536" y="755" width="2" height="2" fill="#00c0ff"/>
<rect x="536" y="765" width="2" height="6" fill="#00c0ff"/>
<rect x="536" y="791" width="2" height="2" fill="#00c0ff"/>
<rect x="538" y="739" width="4" height="2" fill="#0000c8"/>
<rect x="516" y="741" width="2" height="2" fill="#00c0ff"/>
<rect x="520" y="741" width="2" height="2" fill="#00c0ff"/>
<rect x="524" y="741" width="8" height="2" fill="#ffff00"/>
<rect x="532" y="741" width="2" height="10" fill="#00c000"/>
<rect x="532" y="765" width="2" height="4" fill="#00c000"/>
<rect x="532" y="773" width="2" height="2" fill="#00c000"/>
<rect x="532" y="791" width="2" height="2" fill="#00c000"/>
<rect x="532" y="801" width="2" height="4" fill="#00c000"/>
<rect x="534" y="741" width="10" height="8" fill="#00c0ff"/>
<rect x="544" y="741" width="2" height="2" fill="#0000c8"/>
<rect x="514" y="743" width="6" height="2" fill="#00ffff"/>
<rect x="520" y="743" width="4" height="4" fill="#00c000"/>
<rect x="526" y="743" width="2" height="2" fill="#ff8000"/>
<rect x="526" y="783" width="2" height="6" fill="#ff8000"/>
<rect x="526" y="803" width="2" height="2" fill="#ff8000"/>
<rect x="528" y="743" width="4" height="2" fill="#ffff00"/>
<rect x="528" y="783" width="4" height="4" fill="#ffff00"/>
<rect x="528" y="805" width="4" height="2" fill="#ffff00"/>
<rect x="504" y="745" width="6" height="4" fill="#ffff00"/>
<rect x="510" y="745" width="2" height="4" fill="#00c000"/>
<rect x="512" y="745" width="2" height="4" fill="#ffff00"/>
<rect x="526" y="745" width="4" height="18" fill="#ff8000"/>
<rect x="530" y="745" width="2" height="6" fill="#ffff00"/>
<rect x="530" y="765" width="2" height="4" fill="#ffff00"/>
<rect x="530" y="807" width="2" height="10" fill="#ffff00"/>
<rect x="520" y="747" width="6" height="8" fill="#00c000"/>
<rect x="504" y="749" width="10" height="4" fill="#ffff00"/>
<rect x="534" y="749" width="8" height="4" fill="#00c0ff"/>
<rect x="498" y="751" width="2" height="8" fill="#00c0ff"/>
<rect x="530" y="751" width="4" height="14" fill="#ffff00"/>
<rect x="530" y="769" width="4" height="4" fill="#ffff00"/>
<rect x="500" y="753" width="6" height="2" fill="#00c000"/>
<rect x="506" y="753" width="8" height="2" fill="#ffff00"/>
<rect x="534" y="753" width="6" height="2" fill="#00c0ff"/>
<rect x="494" y="755" width="2" height="2" fill="#ffffff"/>
<rect x="494" y="803" width="2" height="6" fill="#ffffff"/>
<rect x="500" y="755" width="4" height="2" fill="#00ffff"/>
<rect x="504" y="755" width="4" height="2" fill="#00c000"/>
<rect x="508" y="755" width="6" height="2" fill="#ffff00"/>
<rect x="518" y="755" width="4" height="6" fill="#00c000"/>
<rect x="522" y="755" width="4" height="8" fill="#ffff00"/>
<rect x="522" y="803" width="4" height="2" fill="#ffff00"/>
<rect x="534" y="755" width="2" height="2" fill="#00ffff"/>
<rect x="534" y="765" width="2" height="6" fill="#00ffff"/>
<rect x="504" y="757" width="6" height="2" fill="#00c000"/>
<rect x="510" y="757" width="8" height="2" fill="#ffff00"/>
<rect x="534" y="757" width="4" height="8" fill="#00ffff"/>
<rect x="124" y="759" width="2" height="4" fill="#0000c8"/>
<rect x="124" y="765" width="2" height="2" fill="#0000c8"/>
<rect x="124" y="773" width="2" height="4" fill="#0000c8"/>
<rect x="124" y="817" width="2" height="6" fill="#0000c8"/>
<rect x="498" y="759" width="2" height="2" fill="#0000c8"/>
<rect x="500" y="759" width="4" height="4" fill="#00c0ff"/>
<rect x="504" y="759" width="4" height="2" fill="#00ffff"/>
<rect x="508" y="759" width="6" height="2" fill="#00c000"/>
<rect x="514" y="759" width="4" height="2" fill="#ffff00"/>
<rect x="514" y="791" width="4" height="2" fill="#ffff00"/>
<rect x="514" y="835" width="4" height="4" fill="#ffff00"/>
<rect x="510" y="761" width="6" height="4" fill="#00c000"/>
<rect x="516" y="761" width="4" height="2" fill="#ffff00"/>
<rect x="516" y="769" width="4" height="18" fill="#ffff00"/>
<rect x="520" y="761" width="2" height="2" fill="#00c000"/>
<rect x="520" y="839" width="2" height="2" fill="#00c000"/>
<rect x="122" y="763" width="4" height="2" fill="#0000c8"/>
<rect x="500" y="763" width="6" height="2" fill="#0000c8"/>
<rect x="506" y="763" width="4" height="2" fill="#00ffff"/>
<rect x="516" y="763" width="8" height="2" fill="#ffff00"/>
<rect x="524" y="763" width="6" height="2" fill="#ff8000"/>
<rect x="122" y="765" width="2" height="2" fill="#00c0ff"/>
<rect x="122" y="779" width="2" height="2" fill="#00c0ff"/>
<rect x="122" y="787" width="2" height="2" fill="#00c0ff"/>
<rect x="122" y="791" width="2" height="6" fill="#00c0ff"/>
<rect x="122" y="807" width="2" height="6" fill="#00c0ff"/>
<rect x="122" y="835" width="2" height="2" fill="#00c0ff"/>
<rect x="502" y="765" width="8" height="4" fill="#0000c8"/>
<rect x="516" y="765" width="6" height="4" fill="#ffff00"/>
<rect x="522" y="765" width="8" height="4" fill="#ff8000"/>
<rect x="120" y="767" width="2" height="2" fill="#ffffff"/>
<rect x="122" y="767" width="4" height="4" fill="#00c0ff"/>
<rect x="512" y="767" width="2" height="2" fill="#00ffff"/>
<rect x="512" y="799" width="2" height="2" fill="#00ffff"/>
<rect x="512" y="837" width="2" height="2" fill="#00ffff"/>
<rect x="120" y="769" width="2" height="2" fill="#0000c8"/>
<rect x="502" y="769" width="4" height="4" fill="#0000c8"/>
<rect x="506" y="769" width="4" height="4" fill="#ffffff"/>
<rect x="510" y="769" width="2" height="2" fill="#0000c8"/>
<rect x="510" y="837" width="2" height="2" fill="#0000c8"/>
<rect x="512" y="769" width="4" height="14" fill="#00ffff"/>
<rect x="520" y="769" width="10" height="4" fill="#ff8000"/>
<rect x="120" y="771" width="6" height="2" fill="#00c0ff"/>
<rect x="120" y="773" width="4" height="6" fill="#00c0ff"/>
<rect x="502" y="773" width="2" height="2" fill="#ffffff"/>
<rect x="520" y="773" width="12" height="10" fill="#ff8000"/>
<rect x="116" y="775" width="4" height="2" fill="#0000c8"/>
<rect x="116" y="777" width="2" height="2" fill="#0000c8"/>
<rect x="116" y="795" width="2" height="2" fill="#0000c8"/>
<rect x="118" y="777" width="2" height="2" fill="#00ffff"/>
<rect x="118" y="807" width="2" height="8" fill="#00ffff"/>
<rect x="100" y="779" width="2" height="4" fill="#0000c8"/>
<rect x="100" y="789" width="2" height="2" fill="#0000c8"/>
<rect x="106" y="779" width="2" height="2" fill="#ffffff"/>
<rect x="116" y="779" width="2" height="4" fill="#00ffff"/>
<rect x="116" y="791" width="2" height="4" fill="#00ffff"/>
<rect x="118" y="779" width="4" height="2" fill="#00c000"/>
<rect x="118" y="793" width="4" height="14" fill="#00c000"/>
<rect x="538" y="779" width="4" height="2" fill="#ffffff"/>
<rect x="118" y="781" width="6" height="2" fill="#00c000"/>
<rect x="98" y="783" width="4" height="2" fill="#00c0ff"/>
<rect x="104" y="783" width="4" height="6" fill="#0000c8"/>
<rect x="116" y="783" width="2" height="8" fill="#00c000"/>
<rect x="118" y="783" width="4" height="10" fill="#ffff00"/>
<rect x="122" y="783" width="2" height="4" fill="#00ffff"/>
<rect x="122" y="789" width="2" height="2" fill="#00ffff"/>
<rect x="122" y="813" width="2" height="8" fill="#00ffff"/>
<rect x="122" y="827" width="2" height="6" fill="#00ffff"/>
<rect x="508" y="783" width="2" height="2" fill="#ffffff"/>
<rect x="520" y="783" width="4" height="6" fill="#ff8000"/>
<rect x="98" y="785" width="2" height="4" fill="#0000c8"/>
<rect x="100" y="785" width="2" height="4" fill="#00c0ff"/>
<rect x="508" y="785" width="2" height="2" fill="#0000c8"/>
<rect x="508" y="809" width="2" height="2" fill="#0000c8"/>
<rect x="508" y="833" width="2" height="4" fill="#0000c8"/>
<rect x="532" y="785" width="2" height="2" fill="#ffffff"/>
<rect x="506" y="787" width="2" height="6" fill="#0000c8"/>
<rect x="506" y="829" width="2" height="2" fill="#0000c8"/>
<rect x="514" y="787" width="6" height="4" fill="#ffff00"/>
<rect x="528" y="787" width="2" height="4" fill="#ffff00"/>
<rect x="528" y="823" width="2" height="6" fill="#ffff00"/>
<rect x="530" y="787" width="2" height="4" fill="#ff8000"/>
<rect x="530" y="801" width="2" height="2" fill="#ff8000"/>
<rect x="538" y="787" width="8" height="2" fill="#0000c8"/>
<rect x="546" y="787" width="2" height="2" fill="#ffffff"/>
<rect x="104" y="789" width="2" height="8" fill="#0000c8"/>
<rect x="520" y="789" width="2" height="2" fill="#ff8000"/>
<rect x="520" y="793" width="2" height="2" fill="#ff8000"/>
<rect x="520" y="801" width="2" height="4" fill="#ff8000"/>
<rect x="522" y="789" width="2" height="2" fill="#ffff00"/>
<rect x="522" y="805" width="2" height="14" fill="#ffff00"/>
<rect x="524" y="789" width="4" height="2" fill="#ff8000"/>
<rect x="524" y="805" width="4" height="2" fill="#ff8000"/>
<rect x="536" y="789" width="8" height="2" fill="#00c0ff"/>
<rect x="108" y="791" width="2" height="4" fill="#ffffff"/>
<rect x="488" y="791" width="2" height="6" fill="#ffffff"/>
<rect x="518" y="791" width="10" height="2" fill="#ff8000"/>
<rect x="528" y="791" width="4" height="2" fill="#ff0000"/>
<rect x="528" y="795" width="4" height="6" fill="#ff0000"/>
<rect x="528" y="803" width="4" height="2" fill="#ff0000"/>
<rect x="538" y="791" width="2" height="2" fill="#00ffff"/>
<rect x="538" y="817" width="2" height="12" fill="#00ffff"/>
<rect x="502" y="793" width="2" height="6" fill="#0000c8"/>
<rect x="502" y="821" width="2" height="4" fill="#0000c8"/>
<rect x="506" y="793" width="6" height="8" fill="#00c0ff"/>
<rect x="514" y="793" width="2" height="4" fill="#ffff00"/>
<rect x="514" y="807" width="2" height="16" fill="#ffff00"/>
<rect x="514" y="833" width="2" height="2" fill="#ffff00"/>
<rect x="516" y="793" width="2" height="2" fill="#ff8000"/>
<rect x="518" y="793" width="2" height="2" fill="#ff0000"/>
<rect x="522" y="793" width="2" height="2" fill="#ff0000"/>
<rect x="524" y="793" width="2" height="2" fill="#ff8000"/>
<rect x="526" y="793" width="6" height="2" fill="#ff0000"/>
<rect x="532" y="793" width="2" height="8" fill="#ffff00"/>
<rect x="536" y="793" width="4" height="2" fill="#00ffff"/>
<rect x="536" y="839" width="4" height="2" fill="#00ffff"/>
<rect x="108" y="795" width="4" height="2" fill="#ffffff"/>
<rect x="496" y="795" width="6" height="4" fill="#ffffff"/>
<rect x="516" y="795" width="4" height="10" fill="#ff0000"/>
<rect x="520" y="795" width="8" height="2" fill="#ff8000"/>
<rect x="520" y="799" width="8" height="2" fill="#ff8000"/>
<rect x="536" y="795" width="10" height="12" fill="#00ffff"/>
<rect x="106" y="797" width="4" height="2" fill="#ffffff"/>
<rect x="116" y="797" width="2" height="2" fill="#ffffff"/>
<rect x="122" y="797" width="2" height="10" fill="#0000c8"/>
<rect x="122" y="839" width="2" height="2" fill="#0000c8"/>
<rect x="514" y="797" width="2" height="10" fill="#ff8000"/>
<rect x="520" y="797" width="6" height="2" fill="#ff8000"/>
<rect x="526" y="797" width="2" height="2" fill="#a000a0"/>
<rect x="106" y="799" width="4" height="6" fill="#0000c8"/>
<rect x="496" y="799" width="10" height="4" fill="#0000c8"/>
<rect x="510" y="801" width="4" height="36" fill="#00ffff"/>
<rect x="522" y="801" width="6" height="2" fill="#ffff00"/>
<rect x="528" y="801" width="2" height="2" fill="#ff0000"/>
<rect x="100" y="803" width="2" height="2" fill="#ffffff"/>
<rect x="500" y="803" width="10" height="6" fill="#00c0ff"/>
<rect x="500" y="811" width="10" height="4" fill="#00c0ff"/>
<rect x="100" y="805" width="4" height="6" fill="#ffffff"/>
<rect x="108" y="805" width="2" height="6" fill="#0000c8"/>
<rect x="496" y="805" width="4" height="4" fill="#0000c8"/>
<rect x="496" y="811" width="4" height="4" fill="#0000c8"/>
<rect x="516" y="805" width="2" height="26" fill="#ff0000"/>
<rect x="518" y="805" width="4" height="14" fill="#ff8000"/>
<rect x="518" y="825" width="4" height="6" fill="#ff8000"/>
<rect x="526" y="807" width="2" height="10" fill="#ffff00"/>
<rect x="528" y="807" width="2" height="16" fill="#ff8000"/>
<rect x="532" y="807" width="8" height="10" fill="#00ffff"/>
<rect x="540" y="807" width="8" height="6" fill="#00c0ff"/>
<rect x="540" y="831" width="8" height="8" fill="#00c0ff"/>
<rect x="494" y="809" width="6" height="2" fill="#0000c8"/>
<rect x="500" y="809" width="8" height="2" fill="#00c0ff"/>
<rect x="100" y="811" width="6" height="4" fill="#ffffff"/>
<rect x="108" y="811" width="4" height="2" fill="#0000c8"/>
<rect x="548" y="811" width="2" height="2" fill="#0000c8"/>
<rect x="110" y="813" width="2" height="4" fill="#0000c8"/>
<rect x="112" y="813" width="4" height="4" fill="#ffffff"/>
<rect x="124" y="813" width="2" height="2" fill="#ffffff"/>
<rect x="540" y="813" width="6" height="12" fill="#00c0ff"/>
<rect x="540" y="827" width="6" height="4" fill="#00c0ff"/>
<rect x="546" y="813" width="4" height="2" fill="#0000c8"/>
<rect x="102" y="815" width="4" height="6" fill="#ffffff"/>
<rect x="118" y="815" width="2" height="4" fill="#00c0ff"/>
<rect x="124" y="815" width="2" height="2" fill="#00c0ff"/>
<rect x="124" y="823" width="2" height="10" fill="#00c0ff"/>
<rect x="496" y="815" width="2" height="2" fill="#ffffff"/>
<rect x="496" y="821" width="2" height="6" fill="#ffffff"/>
<rect x="502" y="815" width="8" height="6" fill="#00c0ff"/>
<rect x="548" y="815" width="2" height="4" fill="#ffffff"/>
<rect x="548" y="827" width="2" height="6" fill="#ffffff"/>
<rect x="112" y="817" width="2" height="4" fill="#0000c8"/>
<rect x="114" y="817" width="2" height="2" fill="#ffffff"/>
<rect x="114" y="825" width="2" height="2" fill="#ffffff"/>
<rect x="524" y="817" width="4" height="4" fill="#00c000"/>
<rect x="530" y="817" width="2" height="16" fill="#00c000"/>
<rect x="532" y="817" width="4" height="2" fill="#00ffff"/>
<rect x="532" y="829" width="4" height="6" fill="#00ffff"/>
<rect x="536" y="817" width="2" height="2" fill="#00c000"/>
<rect x="114" y="819" width="4" height="6" fill="#ffffff"/>
<rect x="118" y="819" width="2" height="2" fill="#0000c8"/>
<rect x="518" y="819" width="2" height="2" fill="#ff8000"/>
<rect x="518" y="835" width="2" height="4" fill="#ff8000"/>
<rect x="520" y="819" width="4" height="2" fill="#ffff00"/>
<rect x="534" y="819" width="4" height="10" fill="#00c000"/>
<rect x="104" y="821" width="2" height="4" fill="#ffffff"/>
<rect x="120" y="821" width="4" height="2" fill="#00c000"/>
<rect x="518" y="821" width="6" height="2" fill="#ffff00"/>
<rect x="122" y="823" width="2" height="4" fill="#00c000"/>
<rect x="126" y="823" width="4" height="8" fill="#0000c8"/>
<rect x="126" y="839" width="4" height="2" fill="#0000c8"/>
<rect x="518" y="823" width="4" height="2" fill="#ffff00"/>
<rect x="130" y="825" width="2" height="4" fill="#ffffff"/>
<rect x="544" y="825" width="4" height="2" fill="#0000c8"/>
<rect x="496" y="827" width="4" height="6" fill="#ffffff"/>
<rect x="130" y="829" width="4" height="2" fill="#ffffff"/>
<rect x="378" y="829" width="2" height="2" fill="#ffffff"/>
<rect x="378" y="835" width="2" height="2" fill="#ffffff"/>
<rect x="536" y="829" width="4" height="8" fill="#00c000"/>
<rect x="126" y="831" width="6" height="6" fill="#0000c8"/>
<rect x="132" y="831" width="4" height="4" fill="#ffffff"/>
<rect x="378" y="831" width="2" height="4" fill="#0000c8"/>
<rect x="516" y="831" width="6" height="2" fill="#ff8000"/>
<rect x="122" y="833" width="4" height="2" fill="#00ffff"/>
<rect x="122" y="837" width="4" height="2" fill="#00ffff"/>
<rect x="498" y="833" width="4" height="2" fill="#ffffff"/>
<rect x="516" y="833" width="4" height="2" fill="#ff8000"/>
<rect x="520" y="833" width="2" height="6" fill="#ffff00"/>
<rect x="548" y="833" width="4" height="2" fill="#ffffff"/>
<rect x="124" y="835" width="2" height="2" fill="#00ffff"/>
<rect x="124" y="839" width="2" height="2" fill="#00ffff"/>
<rect x="132" y="835" width="6" height="4" fill="#ffffff"/>
<rect x="498" y="835" width="6" height="2" fill="#ffffff"/>
<rect x="522" y="835" width="8" height="4" fill="#00c000"/>
<rect x="530" y="835" width="6" height="2" fill="#00ffff"/>
<rect x="548" y="835" width="6" height="4" fill="#0000c8"/>
<rect x="554" y="835" width="2" height="4" fill="#ffffff"/>
<rect x="126" y="837" width="2" height="2" fill="#00c0ff"/>
<rect x="128" y="837" width="4" height="2" fill="#0000c8"/>
<rect x="500" y="837" width="6" height="2" fill="#ffffff"/>
<rect x="530" y="837" width="10" height="2" fill="#00ffff"/>
<rect x="682" y="837" width="4" height="2" fill="#ffffff"/>
<rect x="690" y="837" width="2" height="4" fill="#ffffff"/>
<rect x="694" y="837" width="2" height="4" fill="#ffffff"/>
<rect x="130" y="839" width="8" height="2" fill="#ffffff"/>
<rect x="278" y="839" width="2" height="2" fill="#ffffff"/>
<rect x="500" y="839" width="8" height="2" fill="#ffffff"/>
<rect x="510" y="839" width="4" height="2" fill="#0000c8"/>
<rect x="516" y="839" width="2" height="2" fill="#00c000"/>
<rect x="518" y="839" width="2" height="2" fill="#ffff00"/>
<rect x="522" y="839" width="12" height="2" fill="#00ffff"/>
<rect x="546" y="839" width="2" height="2" fill="#00ffff"/>
<rect x="548" y="839" width="8" height="2" fill="#ffffff"/>
<rect x="682" y="839" width="6" height="2" fill="#ffffff"/>
<rect x="30" y="25" width="720" height="1" fill="#000"/>
<rect x="30" y="280" width="720" height="1" fill="#000"/>
<rect x="30" y="25" width="1" height="256" fill="#000"/>
<rect x="749" y="25" width="1" height="256" fill="#000"/>
<rect x="30" y="40" width="720" height="1" fill="#000"/>
<rect x="30" y="100" width="720" height="1" fill="#000"/>
<rect x="30" y="160" width="720" height="1" fill="#000"/>
<rect x="30" y="220" width="720" height="1" fill="#000"/>
<rect x="210" y="25" width="1" height="256" fill="#000"/>
<rect x="390" y="25" width="1" height="256" fill="#000"/>
<rect x="570" y="25" width="1" height="256" fill="#000"/>
<rect x="30" y="306" width="720" height="1" fill="#000"/>
<rect x="30" y="561" width="720" height="1" fill="#000"/>
<rect x="30" y="306" width="1" height="256" fill="#000"/>
<rect x="749" y="306" width="1" height="256" fill="#000"/>
<rect x="30" y="321" width="720" height="1" fill="#000"/>
<rect x="30" y="381" width="720" height="1" fill="#000"/>
<rect x="30" y="441" width="720" height="1" fill="#000"/>
<rect x="30" y="501" width="720" height="1" fill="#000"/>
<rect x="210" y="306" width="1" height="256" fill="#000"/>
<rect x="390" y="306" width="1" height="256" fill="#000"/>
<rect x="570" y="306" width="1" height="256" fill="#000"/>
<rect x="30" y="587" width="720" height="1" fill="#000"/>
<rect x="30" y="842" width="720" height="1" fill="#000"/>
<rect x="30" y="587" width="1" height="256" fill="#000"/>
<rect x="749" y="587" width="1" height="256" fill="#000"/>
<rect x="30" y="602" width="720" height="1" fill="#000"/>
<rect x="30" y="662" width="720" height="1" fill="#000"/>
<rect x="30" y="722" width="720" height="1" fill="#000"/>
<rect x="30" y="782" width="720" height="1" fill="#000"/>
<rect x="210" y="587" width="1" height="256" fill="#000"/>
<rect x="390" y="587" width="1" height="256" fill="#000"/>
<rect x="570" y="587" width="1" height="256" fill="#000"/>
<rect x="1" y="95" width="25" height="1" fill="#000"/>
<rect x="1" y="370" width="25" height="1" fill="#000"/>
<rect x="1" y="665" width="25" height="1" fill="#000"/>
<rect x="784" y="78" width="31" height="13" fill="#ff00ff"/>
<rect x="784" y="91" width="31" height="14" fill="#ff0000"/>
<rect x="784" y="105" width="31" height="13" fill="#ff8000"/>
<rect x="784" y="118" width="31" height="14" fill="#ffff00"/>
<rect x="784" y="132" width="31" height="14" fill="#80ff00"/>
<rect x="784" y="146" width="31" height="13" fill="#00c800"/>
<rect x="784" y="159" width="31" height="14" fill="#00ffff"/>
<rect x="784" y="173" width="31" height="14" fill="#0080ff"/>
<rect x="784" y="187" width="31" height="13" fill="#0000ff"/>
<rect x="784" y="214" width="31" height="14" fill="#dfdfdf"/>
<rect x="784" y="359" width="31" height="9" fill="#000000"/>
<rect x="784" y="368" width="31" height="9" fill="#550055"/>
<rect x="784" y="377" width="31" height="10" fill="#aa00aa"/>
<rect x="784" y="387" width="31" height="9" fill="#ff00ff"/>
<rect x="784" y="396" width="31" height="9" fill="#ff0080"/>
<rect x="784" y="405" width="31" height="10" fill="#ff0000"/>
<rect x="784" y="415" width="31" height="9" fill="#ff8000"/>
<rect x="784" y="424" width="31" height="10" fill="#ffff00"/>
<rect x="784" y="434" width="31" height="9" fill="#80ff40"/>
<rect x="784" y="443" width="31" height="9" fill="#00c800"/>
<rect x="784" y="452" width="31" height="10" fill="#0000ff"/>
<rect x="784" y="462" width="31" height="9" fill="#0080ff"/>
<rect x="784" y="471" width="31" height="9" fill="#00ffff"/>
<rect x="784" y="480" width="31" height="10" fill="#80ffff"/>
<rect x="784" y="499" width="31" height="10" fill="#dfdfdf"/>
<rect x="784" y="640" width="31" height="12" fill="#a040a0"/>
<rect x="784" y="652" width="31" height="13" fill="#e000e0"/>
<rect x="784" y="665" width="31" height="12" fill="#a000a0"/>
<rect x="784" y="677" width="31" height="13" fill="#ff0000"/>
<rect x="784" y="690" width="31" height="12" fill="#ff8000"/>
<rect x="784" y="702" width="31" height="13" fill="#ffff00"/>
<rect x="784" y="715" width="31" height="12" fill="#00c000"/>
<rect x="784" y="727" width="31" height="13" fill="#00ffff"/>
<rect x="784" y="740" width="31" height="12" fill="#00c0ff"/>
<rect x="784" y="752" width="31" height="13" fill="#0000c8"/>
<rect x="784" y="777" width="31" height="13" fill="#dfdfdf"/>
</svg>
<div class="t sa nb" style="left:240.901px;top:1.324px;font-size:25.352px;transform:scaleX(0.8669)">2</div>
<div class="t sa nb" style="left:253.158px;top:1.324px;font-size:25.352px;transform:scaleX(0.8304)">0</div>
<div class="t sa nb" style="left:264.901px;top:1.324px;font-size:25.352px;transform:scaleX(0.8669)">2</div>
<div class="t sa nb" style="left:277.158px;top:1.324px;font-size:25.352px;transform:scaleX(0.8304)">5</div>
<div class="t sa nb" style="left:292.000px;top:1.324px;font-size:25.352px;transform:scaleX(0.7107)">–</div>
<div class="t sa nb" style="left:304.430px;top:1.324px;font-size:25.352px;transform:scaleX(0.8256)">1</div>
<div class="t sa nb" style="left:316.430px;top:1.324px;font-size:25.352px;transform:scaleX(0.8256)">1</div>
<div class="t sa nb" style="left:332.000px;top:1.324px;font-size:25.352px;transform:scaleX(0.7107)">–</div>
<div class="t sa nb" style="left:344.901px;top:1.324px;font-size:25.352px;transform:scaleX(0.8669)">2</div>
<div class="t sa nb" style="left:357.149px;top:1.324px;font-size:25.352px;transform:scaleX(0.8392)">3</div>
<div class="t sa nb" style="left:386.901px;top:1.324px;font-size:25.352px;transform:scaleX(0.8669)">2</div>
<div class="t sa nb" style="left:399.064px;top:1.324px;font-size:25.352px;transform:scaleX(0.9232)">3</div>
<div class="t sa nb" style="left:412.105px;top:1.324px;font-size:25.352px;transform:scaleX(0.8304)">:</div>
<div class="t sa nb" style="left:417.158px;top:1.324px;font-size:25.352px;transform:scaleX(0.8304)">0</div>
<div class="t sa nb" style="left:430.242px;top:1.324px;font-size:25.352px;transform:scaleX(0.7474)">0</div>
<div class="t sa nb" style="left:444.000px;top:1.324px;font-size:25.352px;transform:scaleX(0.7107)">–</div>
<div class="t sa nb" style="left:456.791px;top:1.324px;font-size:25.352px;transform:scaleX(0.9536)">2</div>
<div class="t sa nb" style="left:469.500px;top:1.324px;font-size:25.352px;transform:scaleX(0.7172)">4</div>
<div class="t sa nb" style="left:482.105px;top:1.324px;font-size:25.352px;transform:scaleX(0.8304)">:</div>
<div class="t sa nb" style="left:488.158px;top:1.324px;font-size:25.352px;transform:scaleX(0.8304)">0</div>
<div class="t sa nb" style="left:500.242px;top:1.324px;font-size:25.352px;transform:scaleX(0.7474)">0</div>
<div class="t se nb" style="left:516.588px;top:-0.947px;font-size:27.481px;transform:scaleX(0.8068)">U</div>
<div class="t se nb" style="left:532.513px;top:-0.947px;font-size:27.481px;transform:scaleX(0.8269)">T</div>
<div class="t se nb" style="left:547.018px;top:-0.947px;font-size:27.481px;transform:scaleX(0.8938)">C</div>
<div class="t sa" style="left:17.462px;top:284.162px;font-size:12.676px;transform:scaleX(0.8493)">23:00</div>
<div class="t sa" style="left:197.461px;top:284.162px;font-size:12.676px;transform:scaleX(0.8511)">23:15</div>
<div class="t sa" style="left:377.462px;top:284.162px;font-size:12.676px;transform:scaleX(0.8493)">23:30</div>
<div class="t sa" style="left:557.461px;top:284.162px;font-size:12.676px;transform:scaleX(0.8511)">23:45</div>
<div class="t sa" style="left:737.462px;top:284.162px;font-size:12.676px;transform:scaleX(0.8493)">24:00</div>
<div class="t sa" style="left:17.462px;top:564.162px;font-size:12.676px;transform:scaleX(0.8493)">23:00</div>
<div class="t sa" style="left:197.461px;top:564.162px;font-size:12.676px;transform:scaleX(0.8511)">23:15</div>
<div class="t sa" style="left:377.462px;top:564.162px;font-size:12.676px;transform:scaleX(0.8493)">23:30</div>
<div class="t sa" style="left:557.461px;top:564.162px;font-size:12.676px;transform:scaleX(0.8511)">23:45</div>
<div class="t sa" style="left:737.462px;top:564.162px;font-size:12.676px;transform:scaleX(0.8493)">24:00</div>
<div class="t sa" style="left:17.462px;top:844.162px;font-size:12.676px;transform:scaleX(0.8493)">23:00</div>
<div class="t sa" style="left:197.461px;top:844.162px;font-size:12.676px;transform:scaleX(0.8511)">23:15</div>
<div class="t sa" style="left:377.462px;top:844.162px;font-size:12.676px;transform:scaleX(0.8493)">23:30</div>
<div class="t sa" style="left:557.461px;top:844.162px;font-size:12.676px;transform:scaleX(0.8511)">23:45</div>
<div class="t sa" style="left:737.462px;top:844.162px;font-size:12.676px;transform:scaleX(0.8493)">24:00</div>
<div class="t se" style="left:754.388px;top:35.733px;font-size:13.333px;transform:scaleX(0.9184)">3 km</div>
<div class="t se" style="left:754.450px;top:114.733px;font-size:13.333px;transform:scaleX(0.9160)">2 km</div>
<div class="t se" style="left:752.875px;top:195.733px;font-size:13.333px;transform:scaleX(0.9375)">1 km</div>
<div class="t se" style="left:753.513px;top:273.733px;font-size:13.333px;transform:scaleX(0.9137)">0 km</div>
<div class="t se" style="left:754.388px;top:313.733px;font-size:13.333px;transform:scaleX(0.9184)">3 km</div>
<div class="t se" style="left:754.450px;top:392.733px;font-size:13.333px;transform:scaleX(0.9160)">2 km</div>
<div class="t se" style="left:752.875px;top:475.733px;font-size:13.333px;transform:scaleX(0.9375)">1 km</div>
<div class="t se" style="left:753.513px;top:553.733px;font-size:13.333px;transform:scaleX(0.9137)">0 km</div>
<div class="t se" style="left:754.388px;top:595.733px;font-size:13.333px;transform:scaleX(0.9184)">3 km</div>
<div class="t se" style="left:754.450px;top:674.733px;font-size:13.333px;transform:scaleX(0.9160)">2 km</div>
<div class="t se" style="left:752.875px;top:755.733px;font-size:13.333px;transform:scaleX(0.9375)">1 km</div>
<div class="t se" style="left:753.513px;top:833.733px;font-size:13.333px;transform:scaleX(0.9137)">0 km</div>
<div class="t sa" style="left:818.483px;top:84.162px;font-size:12.676px;transform:scaleX(0.9108)">8.0</div>
<div class="t sa" style="left:817.423px;top:98.162px;font-size:12.676px;transform:scaleX(0.9143)">7.0</div>
<div class="t sa" style="left:817.423px;top:112.162px;font-size:12.676px;transform:scaleX(0.9143)">6.0</div>
<div class="t sa" style="left:816.542px;top:126.162px;font-size:12.676px;transform:scaleX(0.9722)">5.0</div>
<div class="t sa" style="left:817.717px;top:140.162px;font-size:12.676px;transform:scaleX(0.8931)">4.0</div>
<div class="t sa" style="left:816.542px;top:154.162px;font-size:12.676px;transform:scaleX(0.9722)">3.0</div>
<div class="t sa" style="left:817.423px;top:168.162px;font-size:12.676px;transform:scaleX(0.9143)">2.0</div>
<div class="t sa" style="left:817.118px;top:182.162px;font-size:12.676px;transform:scaleX(0.9281)">1.0</div>
<div class="t sa" style="left:817.542px;top:196.162px;font-size:12.676px;transform:scaleX(0.9033)">0.0</div>
<div class="t se" style="left:817.742px;top:208.989px;font-size:13.187px;transform:scaleX(0.9799)">miss</div>
<div class="t sa" style="left:817.721px;top:360.162px;font-size:12.676px;transform:scaleX(0.8812)">48.0</div>
<div class="t sa" style="left:817.139px;top:380.162px;font-size:12.676px;transform:scaleX(0.9053)">12.0</div>
<div class="t sa" style="left:817.423px;top:399.162px;font-size:12.676px;transform:scaleX(0.9143)">6.0</div>
<div class="t sa" style="left:816.542px;top:418.162px;font-size:12.676px;transform:scaleX(0.9722)">3.0</div>
<div class="t sa" style="left:817.118px;top:437.162px;font-size:12.676px;transform:scaleX(0.9281)">1.5</div>
<div class="t sa" style="left:817.542px;top:457.162px;font-size:12.676px;transform:scaleX(0.9033)">0.5</div>
<div class="t sa" style="left:817.538px;top:475.162px;font-size:12.676px;transform:scaleX(0.9103)">0.1</div>
<div class="t sa" style="left:817.542px;top:485.162px;font-size:12.676px;transform:scaleX(0.9033)">0.0</div>
<div class="t se" style="left:817.742px;top:492.989px;font-size:13.187px;transform:scaleX(0.9799)">miss</div>
<div class="t sa" style="left:818.721px;top:647.162px;font-size:12.676px;transform:scaleX(0.8812)">40.0</div>
<div class="t sa" style="left:817.550px;top:660.162px;font-size:12.676px;transform:scaleX(0.8883)">35.0</div>
<div class="t sa" style="left:817.550px;top:672.162px;font-size:12.676px;transform:scaleX(0.8883)">30.0</div>
<div class="t sa" style="left:818.434px;top:685.162px;font-size:12.676px;transform:scaleX(0.8931)">25.0</div>
<div class="t sa" style="left:818.434px;top:697.162px;font-size:12.676px;transform:scaleX(0.8931)">20.0</div>
<div class="t sa" style="left:818.139px;top:710.162px;font-size:12.676px;transform:scaleX(0.9053)">15.0</div>
<div class="t sa" style="left:818.139px;top:722.162px;font-size:12.676px;transform:scaleX(0.9053)">10.0</div>
<div class="t sa" style="left:817.542px;top:735.162px;font-size:12.676px;transform:scaleX(0.9722)">5.0</div>
<div class="t sa" style="left:818.542px;top:748.162px;font-size:12.676px;transform:scaleX(0.9033)">0.0</div>
<div class="t se" style="left:819.391px;top:758.733px;font-size:13.333px;transform:scaleX(0.8715)">−5.0</div>
<div class="t se" style="left:818.682px;top:767.989px;font-size:13.187px;transform:scaleX(0.9655)">none</div>
<div class="t se" style="left:800.755px;top:64.989px;font-size:13.187px;transform:scaleX(0.9275)">m/s</div>
<div class="t se" style="left:800.765px;top:344.989px;font-size:13.187px;transform:scaleX(0.8905)">mm/hr</div>
<div class="t se" style="left:800.586px;top:625.527px;font-size:13.740px;transform:scaleX(0.8613)">dBZ</div>
<div class="t se nb" style="left:-1.947px;top:225.761px;font-size:27.481px;transform:rotate(-90deg) scaleX(0.9304)">Fall Velocity</div>
<div class="t se nb" style="left:-2.947px;top:512.755px;font-size:27.481px;transform:rotate(-90deg) scaleX(0.9219)">Rain Intensity</div>
<div class="t se nb" style="left:-1.947px;top:779.724px;font-size:27.481px;transform:rotate(-90deg) scaleX(0.8855)">Reflectivity</div>
</body></html>
